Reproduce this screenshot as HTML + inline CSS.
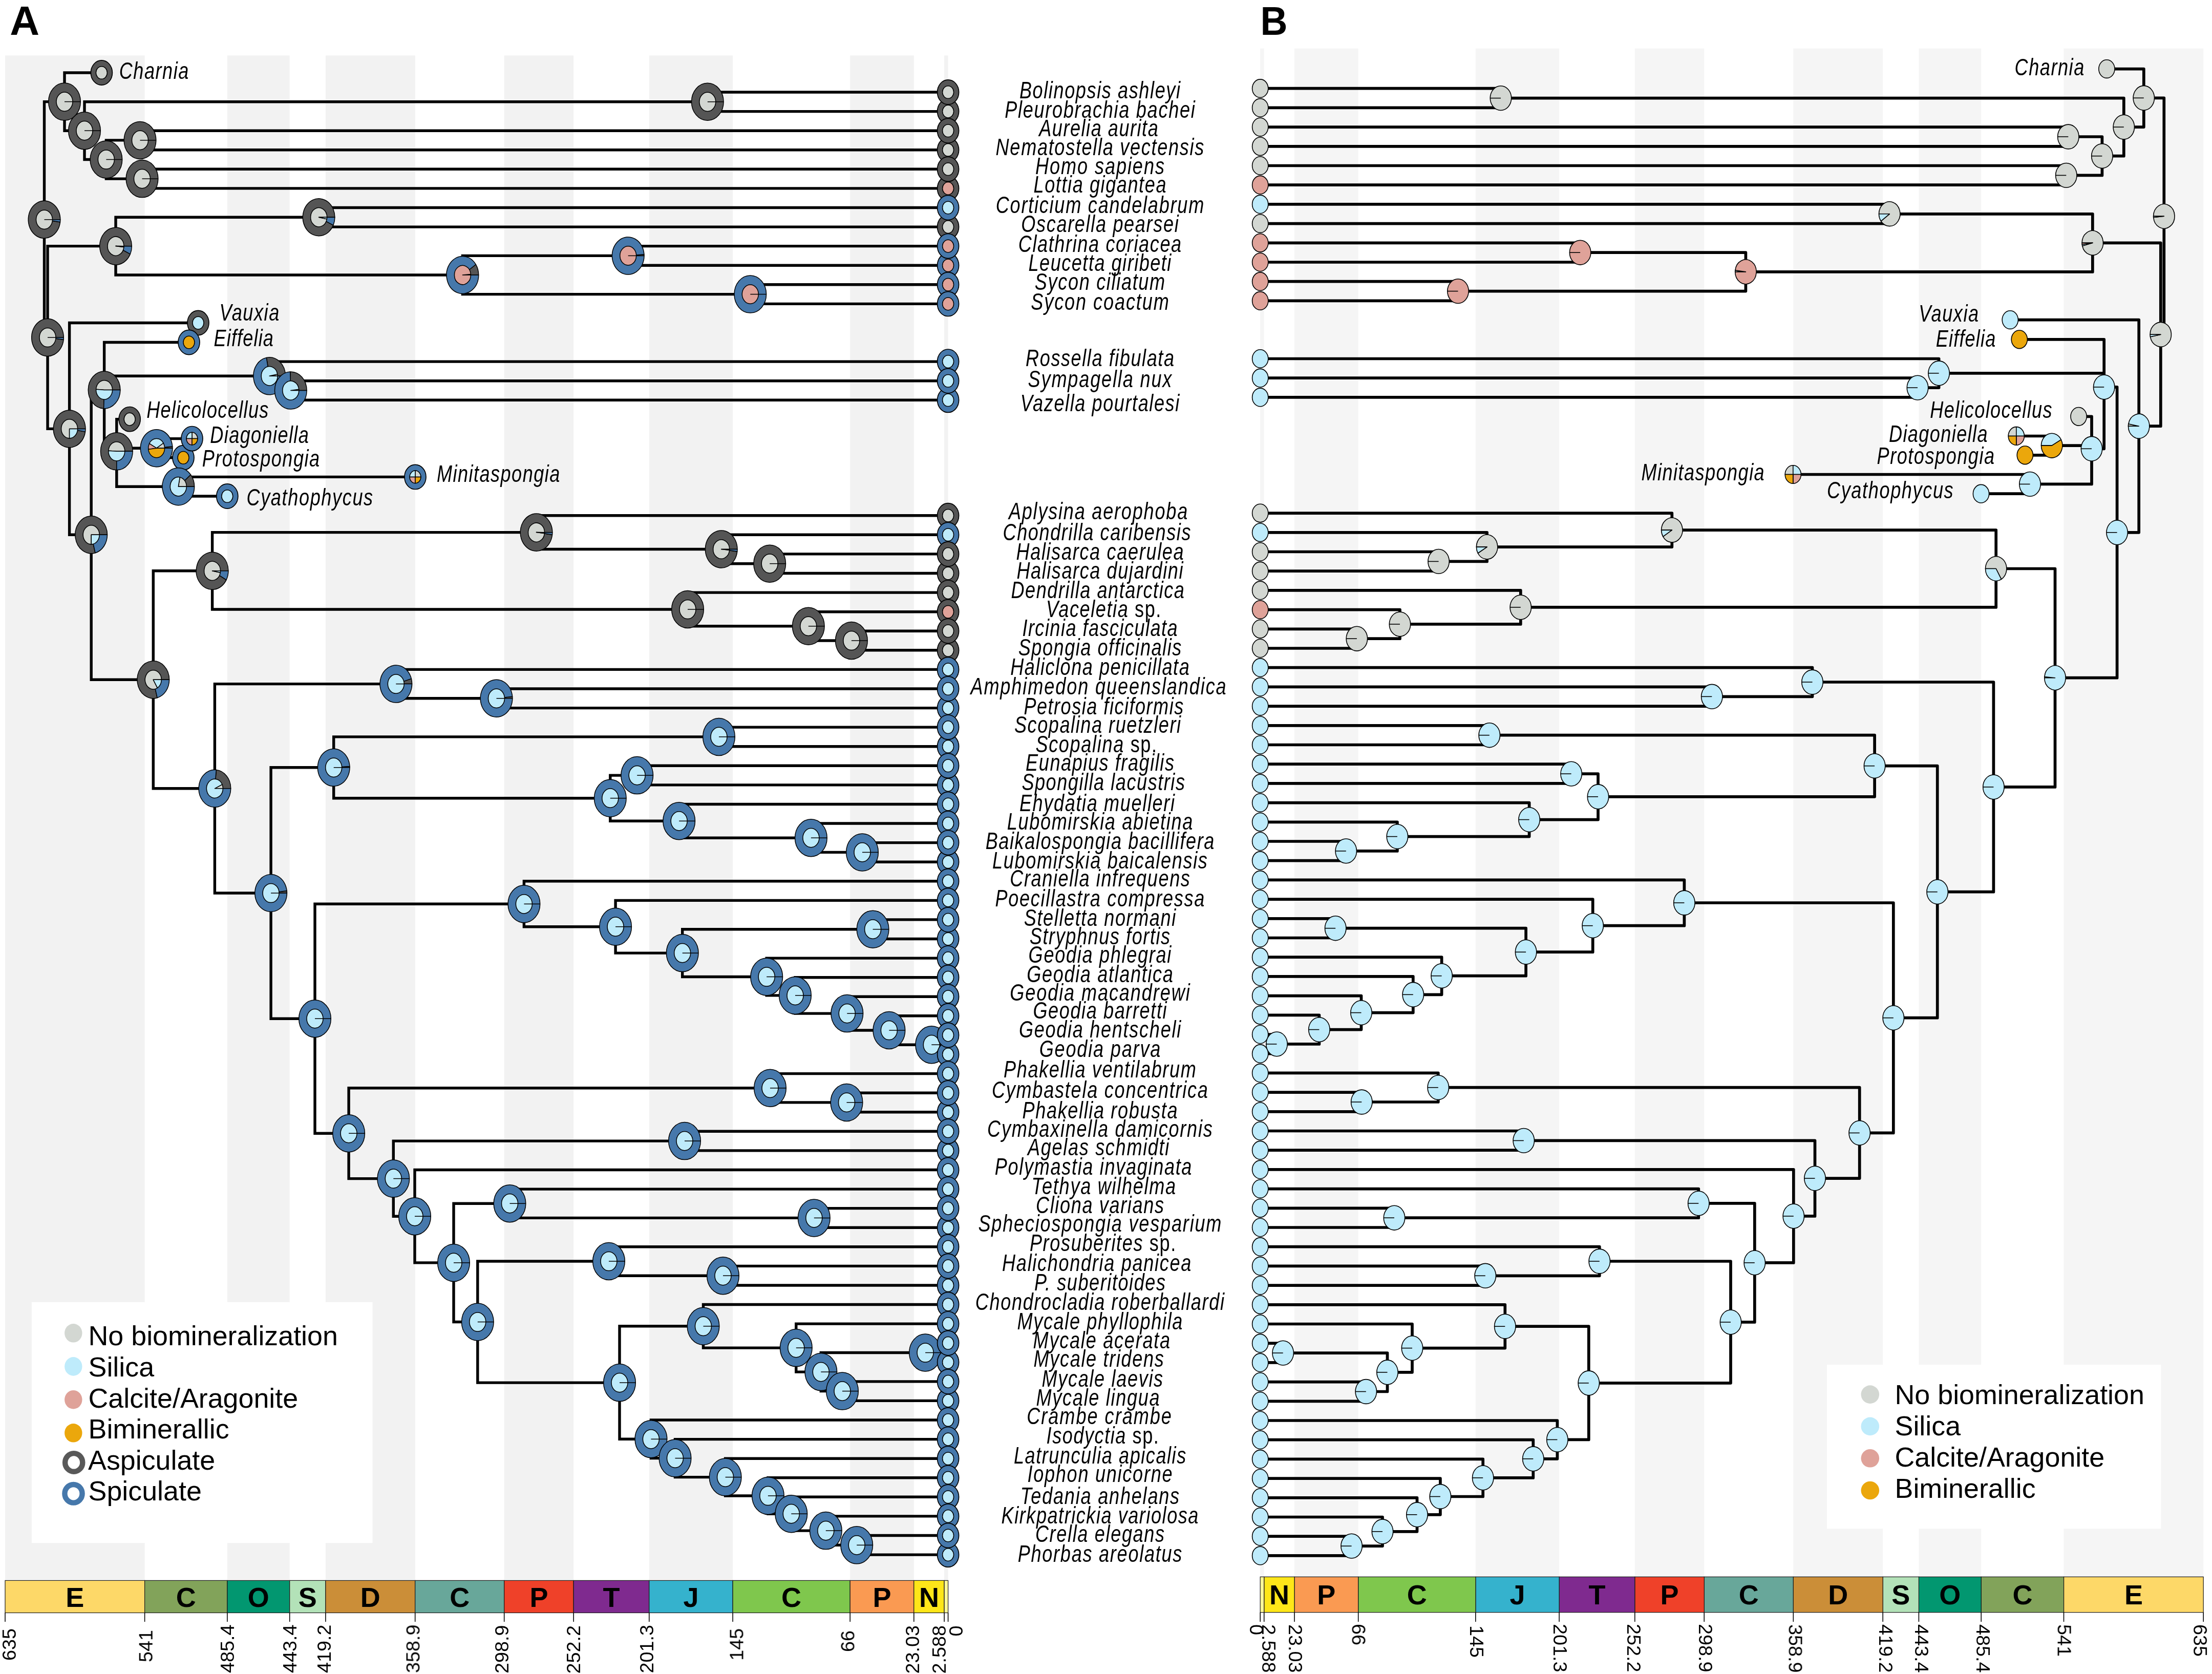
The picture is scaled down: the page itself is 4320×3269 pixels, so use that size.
<!DOCTYPE html>
<html><head><meta charset="utf-8"><title>Figure</title>
<style>html,body{margin:0;padding:0;background:#fff}svg{display:block}text{font-family:"Liberation Sans",sans-serif}</style></head>
<body><svg width="4320" height="3269" viewBox="0 0 4320 3269">
<rect x="0" y="0" width="4320" height="3269" fill="#fff"/>
<rect x="10.0" y="108.4" width="272.6" height="2976.6" fill="#f2f2f2"/>
<rect x="443.9" y="108.4" width="121.8" height="2976.6" fill="#f2f2f2"/>
<rect x="635.9" y="108.4" width="174.9" height="2976.6" fill="#f2f2f2"/>
<rect x="984.7" y="108.4" width="135.4" height="2976.6" fill="#f2f2f2"/>
<rect x="1267.8" y="108.4" width="163.3" height="2976.6" fill="#f2f2f2"/>
<rect x="1660.2" y="108.4" width="124.6" height="2976.6" fill="#f2f2f2"/>
<rect x="1844.1" y="108.4" width="7.5" height="2976.6" fill="#f2f2f2"/>
<rect x="61.8" y="2542.8" width="665.7" height="470.3" fill="#fff"/>
<rect x="4030.5" y="94.6" width="272.7" height="2984.4" fill="#f5f5f5"/>
<rect x="3747.4" y="94.6" width="121.8" height="2984.4" fill="#f5f5f5"/>
<rect x="3502.3" y="94.6" width="174.9" height="2984.4" fill="#f5f5f5"/>
<rect x="3192.8" y="94.6" width="135.5" height="2984.4" fill="#f5f5f5"/>
<rect x="2881.8" y="94.6" width="163.3" height="2984.4" fill="#f5f5f5"/>
<rect x="2528.0" y="94.6" width="124.6" height="2984.4" fill="#f5f5f5"/>
<rect x="2461.2" y="94.6" width="7.5" height="2984.4" fill="#f5f5f5"/>
<rect x="3567.9" y="2665.1" width="652.6" height="320.1" fill="#fff"/>
<path d="M86.5 198.6V659.0M86.5 198.6H126.0M126.0 142.0V255.2M126.0 142.0H198.4M126.0 255.2H165.0M165.0 198.8V311.5M165.0 198.8H1381.8M1381.8 180.0V217.6M1381.8 180.0H1851.6M1381.8 217.6H1851.6M165.0 311.5H207.4M207.4 273.9V349.1M207.4 273.9H273.5M273.5 255.2V292.7M273.5 255.2H1851.6M273.5 292.7H1851.6M207.4 349.1H277.5M277.5 330.3V367.9M277.5 330.3H1851.6M277.5 367.9H1851.6M86.5 659.0H93.0M93.0 480.6V837.4M93.0 480.6H226.0M226.0 424.3V537.0M226.0 424.3H622.6M622.6 405.5V443.1M622.6 405.5H1851.6M622.6 443.1H1851.6M226.0 537.0H903.4M903.4 499.4V574.6M903.4 499.4H1226.7M1226.7 480.6V518.2M1226.7 480.6H1851.6M1226.7 518.2H1851.6M903.4 574.6H1465.3M1465.3 555.8V593.4M1465.3 555.8H1851.6M1465.3 593.4H1851.6M93.0 837.4H135.6M135.6 630.5V1044.3M135.6 630.5H387.0M135.6 1044.3H178.2M178.2 761.4V1327.3M178.2 761.4H203.6M203.6 668.5V881.3M203.6 668.5H369.0M203.6 734.3H526.2M526.2 706.1V762.5M526.2 706.1H1851.6M526.2 762.5H567.8M567.8 743.7V781.3M567.8 743.7H1851.6M567.8 781.3H1851.6M203.6 881.3H227.8M227.8 818.6V950.2M227.8 818.6H253.2M227.8 875.2H305.6M305.6 856.6V893.8M305.6 856.6H375.0M305.6 893.8H358.0M227.8 950.2H348.3M348.3 931.4V969.0M348.3 931.4H811.0M348.3 969.0H443.8M178.2 1327.3H299.3M299.3 1114.8V1539.8M299.3 1114.8H414.6M414.6 1039.6V1190.0M414.6 1039.6H1047.5M1047.5 1006.8V1072.5M1047.5 1006.8H1851.6M1047.5 1072.5H1408.7M1408.7 1044.3V1100.7M1408.7 1044.3H1851.6M1408.7 1100.7H1503.2M1503.2 1081.9V1119.5M1503.2 1081.9H1851.6M1503.2 1119.5H1851.6M414.6 1190.0H1343.0M1343.0 1157.1V1222.8M1343.0 1157.1H1851.6M1343.0 1222.8H1578.8M1578.8 1194.7V1251.0M1578.8 1194.7H1851.6M1578.8 1251.0H1662.9M1662.9 1232.2V1269.8M1662.9 1232.2H1851.6M1662.9 1269.8H1851.6M299.3 1539.8H419.4M419.4 1335.6V1744.0M419.4 1335.6H773.3M773.3 1307.4V1363.8M773.3 1307.4H1851.6M773.3 1363.8H969.5M969.5 1345.0V1382.6M969.5 1345.0H1851.6M969.5 1382.6H1851.6M419.4 1744.0H529.1M529.1 1498.8V1989.2M529.1 1498.8H651.7M651.7 1438.9V1558.7M651.7 1438.9H1404.0M1404.0 1420.1V1457.7M1404.0 1420.1H1851.6M1404.0 1457.7H1851.6M651.7 1558.7H1191.8M1191.8 1514.1V1603.3M1191.8 1514.1H1244.2M1244.2 1495.3V1532.9M1244.2 1495.3H1851.6M1244.2 1532.9H1851.6M1191.8 1603.3H1326.2M1326.2 1570.5V1636.2M1326.2 1570.5H1851.6M1326.2 1636.2H1583.9M1583.9 1608.0V1664.4M1583.9 1608.0H1851.6M1583.9 1664.4H1684.0M1684.0 1645.6V1683.2M1684.0 1645.6H1851.6M1684.0 1683.2H1851.6M529.1 1989.2H615.0M615.0 1765.3V2213.2M615.0 1765.3H1023.4M1023.4 1720.8V1809.7M1023.4 1720.8H1851.6M1023.4 1809.7H1202.1M1202.1 1758.4V1861.1M1202.1 1758.4H1851.6M1202.1 1861.1H1332.7M1332.7 1814.7V1907.5M1332.7 1814.7H1704.6M1704.6 1795.9V1833.5M1704.6 1795.9H1851.6M1704.6 1833.5H1851.6M1332.7 1907.5H1497.2M1497.2 1871.1V1943.9M1497.2 1871.1H1851.6M1497.2 1943.9H1553.0M1553.0 1908.7V1979.1M1553.0 1908.7H1851.6M1553.0 1979.1H1654.3M1654.3 1946.3V2012.0M1654.3 1946.3H1851.6M1654.3 2012.0H1736.4M1736.4 1983.8V2040.2M1736.4 1983.8H1851.6M1736.4 2040.2H1819.3M1819.3 2021.4V2059.0M1819.3 2021.4H1851.6M1819.3 2059.0H1851.6M615.0 2213.2H681.1M681.1 2124.8V2301.6M681.1 2124.8H1504.0M1504.0 2096.6V2152.9M1504.0 2096.6H1851.6M1504.0 2152.9H1653.5M1653.5 2134.2V2171.7M1653.5 2134.2H1851.6M1653.5 2171.7H1851.6M681.1 2301.6H768.3M768.3 2228.1V2375.2M768.3 2228.1H1337.0M1337.0 2209.3V2246.9M1337.0 2209.3H1851.6M1337.0 2246.9H1851.6M768.3 2375.2H810.0M810.0 2284.5V2465.9M810.0 2284.5H1851.6M810.0 2465.9H886.0M886.0 2350.2V2581.5M886.0 2350.2H995.5M995.5 2322.1V2378.4M995.5 2322.1H1851.6M995.5 2378.4H1589.8M1589.8 2359.6V2397.2M1589.8 2359.6H1851.6M1589.8 2397.2H1851.6M886.0 2581.5H932.8M932.8 2463.0V2700.1M932.8 2463.0H1189.0M1189.0 2434.8V2491.2M1189.0 2434.8H1851.6M1189.0 2491.2H1412.0M1412.0 2472.4V2510.0M1412.0 2472.4H1851.6M1412.0 2510.0H1851.6M932.8 2700.1H1210.0M1210.0 2589.8V2810.3M1210.0 2589.8H1373.5M1373.5 2547.5V2632.1M1373.5 2547.5H1851.6M1373.5 2632.1H1554.8M1554.8 2585.1V2679.1M1554.8 2585.1H1851.6M1554.8 2679.1H1603.3M1603.3 2641.5V2716.6M1603.3 2641.5H1807.1M1807.1 2622.7V2660.3M1807.1 2622.7H1851.6M1807.1 2660.3H1851.6M1603.3 2716.6H1645.0M1645.0 2697.9V2735.4M1645.0 2697.9H1851.6M1645.0 2735.4H1851.6M1210.0 2810.3H1271.4M1271.4 2773.0V2847.6M1271.4 2773.0H1851.6M1271.4 2847.6H1318.5M1318.5 2810.6V2884.6M1318.5 2810.6H1851.6M1318.5 2884.6H1416.6M1416.6 2848.2V2921.0M1416.6 2848.2H1851.6M1416.6 2921.0H1499.9M1499.9 2885.8V2956.2M1499.9 2885.8H1851.6M1499.9 2956.2H1545.3M1545.3 2923.3V2989.1M1545.3 2923.3H1851.6M1545.3 2989.1H1612.8M1612.8 2960.9V3017.3M1612.8 2960.9H1851.6M1612.8 3017.3H1673.2M1673.2 2998.5V3036.1M1673.2 2998.5H1851.6M1673.2 3036.1H1851.6" fill="none" stroke="#000" stroke-width="5.4" stroke-linecap="square"/>
<path d="M86.5 428.8L117.80 428.81A31.3 36.5 0 1 0 117.50 433.83Z" fill="#555555" stroke="#000" stroke-width="1.5" stroke-linejoin="round"/><path d="M86.5 428.8L117.50 433.83A31.3 36.5 0 0 0 117.80 428.81Z" fill="#4678ab" stroke="#000" stroke-width="1.5" stroke-linejoin="round"/>
<ellipse cx="86.5" cy="428.8" rx="16.0" ry="18.6" fill="#d3d7d2" stroke="#000" stroke-width="1.5"/>
<path d="M86.5 428.8H102.5" stroke="#000" stroke-width="1.5"/>
<ellipse cx="126.0" cy="198.6" rx="31.3" ry="36.5" fill="#555555" stroke="#000" stroke-width="1.5"/>
<path d="M126.0 198.6H157.3" stroke="#000" stroke-width="1.5"/>
<ellipse cx="126.0" cy="198.6" rx="16.0" ry="18.6" fill="#d3d7d2" stroke="#000" stroke-width="1.5"/>
<path d="M126.0 198.6H142.0" stroke="#000" stroke-width="1.5"/>
<ellipse cx="198.4" cy="142.0" rx="21.0" ry="24.1" fill="#555555" stroke="#000" stroke-width="1.7"/><ellipse cx="198.4" cy="142.0" rx="11.0" ry="12.3" fill="#d3d7d2" stroke="#000" stroke-width="1.5"/>
<ellipse cx="165.0" cy="255.2" rx="31.3" ry="36.5" fill="#555555" stroke="#000" stroke-width="1.5"/>
<path d="M165.0 255.2H196.3" stroke="#000" stroke-width="1.5"/>
<ellipse cx="165.0" cy="255.2" rx="16.0" ry="18.6" fill="#d3d7d2" stroke="#000" stroke-width="1.5"/>
<path d="M165.0 255.2H181.0" stroke="#000" stroke-width="1.5"/>
<ellipse cx="1381.8" cy="198.8" rx="31.3" ry="36.5" fill="#555555" stroke="#000" stroke-width="1.5"/>
<path d="M1381.8 198.8H1413.1" stroke="#000" stroke-width="1.5"/>
<ellipse cx="1381.8" cy="198.8" rx="16.0" ry="18.6" fill="#d3d7d2" stroke="#000" stroke-width="1.5"/>
<path d="M1381.8 198.8H1397.8" stroke="#000" stroke-width="1.5"/>
<ellipse cx="207.4" cy="311.5" rx="31.3" ry="36.5" fill="#555555" stroke="#000" stroke-width="1.5"/>
<path d="M207.4 311.5H238.7" stroke="#000" stroke-width="1.5"/>
<ellipse cx="207.4" cy="311.5" rx="16.0" ry="18.6" fill="#d3d7d2" stroke="#000" stroke-width="1.5"/>
<path d="M207.4 311.5H223.4" stroke="#000" stroke-width="1.5"/>
<ellipse cx="273.5" cy="273.9" rx="31.3" ry="36.5" fill="#555555" stroke="#000" stroke-width="1.5"/>
<path d="M273.5 273.9H304.8" stroke="#000" stroke-width="1.5"/>
<ellipse cx="273.5" cy="273.9" rx="16.0" ry="18.6" fill="#d3d7d2" stroke="#000" stroke-width="1.5"/>
<path d="M273.5 273.9H289.5" stroke="#000" stroke-width="1.5"/>
<ellipse cx="277.5" cy="349.1" rx="31.3" ry="36.5" fill="#555555" stroke="#000" stroke-width="1.5"/>
<path d="M277.5 349.1H308.8" stroke="#000" stroke-width="1.5"/>
<ellipse cx="277.5" cy="349.1" rx="16.0" ry="18.6" fill="#d3d7d2" stroke="#000" stroke-width="1.5"/>
<path d="M277.5 349.1H293.5" stroke="#000" stroke-width="1.5"/>
<path d="M93.0 659.0L124.30 659.03A31.3 36.5 0 1 0 124.10 663.15Z" fill="#555555" stroke="#000" stroke-width="1.5" stroke-linejoin="round"/><path d="M93.0 659.0L124.10 663.15A31.3 36.5 0 0 0 124.30 659.03Z" fill="#4678ab" stroke="#000" stroke-width="1.5" stroke-linejoin="round"/>
<ellipse cx="93.0" cy="659.0" rx="16.0" ry="18.6" fill="#d3d7d2" stroke="#000" stroke-width="1.5"/>
<path d="M93.0 659.0H109.0" stroke="#000" stroke-width="1.5"/>
<path d="M226.0 480.6L257.30 480.64A31.3 36.5 0 1 0 254.32 496.18Z" fill="#555555" stroke="#000" stroke-width="1.5" stroke-linejoin="round"/><path d="M226.0 480.6L254.32 496.18A31.3 36.5 0 0 0 257.30 480.64Z" fill="#4678ab" stroke="#000" stroke-width="1.5" stroke-linejoin="round"/>
<path d="M226.0 480.6L242.00 480.64A16.0 18.6 0 1 0 241.93 482.39Z" fill="#d3d7d2" stroke="#000" stroke-width="1.5" stroke-linejoin="round"/><path d="M226.0 480.6L241.93 482.39A16.0 18.6 0 0 0 242.00 480.64Z" fill="#beebfb" stroke="#000" stroke-width="1.5" stroke-linejoin="round"/>
<path d="M622.6 424.3L653.90 424.27A31.3 36.5 0 1 0 650.92 439.81Z" fill="#555555" stroke="#000" stroke-width="1.5" stroke-linejoin="round"/><path d="M622.6 424.3L650.92 439.81A31.3 36.5 0 0 0 653.90 424.27Z" fill="#4678ab" stroke="#000" stroke-width="1.5" stroke-linejoin="round"/>
<path d="M622.6 424.3L638.60 424.27A16.0 18.6 0 1 0 638.32 427.76Z" fill="#d3d7d2" stroke="#000" stroke-width="1.5" stroke-linejoin="round"/><path d="M622.6 424.3L638.32 427.76A16.0 18.6 0 0 0 638.60 424.27Z" fill="#beebfb" stroke="#000" stroke-width="1.5" stroke-linejoin="round"/>
<path d="M903.4 537.0L934.70 537.01A31.3 36.5 0 0 0 929.29 516.49Z" fill="#555555" stroke="#000" stroke-width="1.5" stroke-linejoin="round"/><path d="M903.4 537.0L929.29 516.49A31.3 36.5 0 1 0 934.70 537.01Z" fill="#4678ab" stroke="#000" stroke-width="1.5" stroke-linejoin="round"/>
<path d="M903.4 537.0L919.40 537.01A16.0 18.6 0 0 0 919.35 535.61Z" fill="#d3d7d2" stroke="#000" stroke-width="1.5" stroke-linejoin="round"/><path d="M903.4 537.0L919.35 535.61A16.0 18.6 0 1 0 919.40 537.01Z" fill="#dfa299" stroke="#000" stroke-width="1.5" stroke-linejoin="round"/>
<path d="M1226.7 499.4L1258.00 499.43A31.3 36.5 0 0 0 1257.91 496.68Z" fill="#555555" stroke="#000" stroke-width="1.5" stroke-linejoin="round"/><path d="M1226.7 499.4L1257.91 496.68A31.3 36.5 0 1 0 1258.00 499.43Z" fill="#4678ab" stroke="#000" stroke-width="1.5" stroke-linejoin="round"/>
<ellipse cx="1226.7" cy="499.4" rx="16.0" ry="18.6" fill="#dfa299" stroke="#000" stroke-width="1.5"/>
<path d="M1226.7 499.4H1242.7" stroke="#000" stroke-width="1.5"/>
<ellipse cx="1465.3" cy="574.6" rx="31.3" ry="36.5" fill="#4678ab" stroke="#000" stroke-width="1.5"/>
<path d="M1465.3 574.6H1496.6" stroke="#000" stroke-width="1.5"/>
<ellipse cx="1465.3" cy="574.6" rx="16.0" ry="18.6" fill="#dfa299" stroke="#000" stroke-width="1.5"/>
<path d="M1465.3 574.6H1481.3" stroke="#000" stroke-width="1.5"/>
<path d="M135.6 837.4L166.90 837.42A31.3 36.5 0 1 0 166.51 843.13Z" fill="#555555" stroke="#000" stroke-width="1.5" stroke-linejoin="round"/><path d="M135.6 837.4L166.51 843.13A31.3 36.5 0 0 0 166.90 837.42Z" fill="#4678ab" stroke="#000" stroke-width="1.5" stroke-linejoin="round"/>
<path d="M135.6 837.4L151.60 837.42A16.0 18.6 0 1 0 135.60 856.02Z" fill="#d3d7d2" stroke="#000" stroke-width="1.5" stroke-linejoin="round"/><path d="M135.6 837.4L135.60 856.02A16.0 18.6 0 0 0 151.60 837.42Z" fill="#beebfb" stroke="#000" stroke-width="1.5" stroke-linejoin="round"/>
<ellipse cx="387.0" cy="630.5" rx="21.0" ry="24.1" fill="#555555" stroke="#000" stroke-width="1.7"/><ellipse cx="387.0" cy="630.5" rx="11.0" ry="12.3" fill="#beebfb" stroke="#000" stroke-width="1.5"/>
<path d="M178.2 1044.3L209.50 1044.34A31.3 36.5 0 1 0 185.98 1079.70Z" fill="#555555" stroke="#000" stroke-width="1.5" stroke-linejoin="round"/><path d="M178.2 1044.3L185.98 1079.70A31.3 36.5 0 0 0 209.50 1044.34Z" fill="#4678ab" stroke="#000" stroke-width="1.5" stroke-linejoin="round"/>
<path d="M178.2 1044.3L194.20 1044.34A16.0 18.6 0 1 0 178.20 1062.94Z" fill="#d3d7d2" stroke="#000" stroke-width="1.5" stroke-linejoin="round"/><path d="M178.2 1044.3L178.20 1062.94A16.0 18.6 0 0 0 194.20 1044.34Z" fill="#beebfb" stroke="#000" stroke-width="1.5" stroke-linejoin="round"/>
<path d="M203.6 761.4L234.90 761.38A31.3 36.5 0 1 0 202.62 797.86Z" fill="#555555" stroke="#000" stroke-width="1.5" stroke-linejoin="round"/><path d="M203.6 761.4L202.62 797.86A31.3 36.5 0 0 0 234.90 761.38Z" fill="#4678ab" stroke="#000" stroke-width="1.5" stroke-linejoin="round"/>
<path d="M203.6 761.4L219.60 761.38A16.0 18.6 0 0 0 187.63 760.21Z" fill="#d3d7d2" stroke="#000" stroke-width="1.5" stroke-linejoin="round"/><path d="M203.6 761.4L187.63 760.21A16.0 18.6 0 1 0 219.60 761.38Z" fill="#beebfb" stroke="#000" stroke-width="1.5" stroke-linejoin="round"/>
<ellipse cx="369.0" cy="668.5" rx="21.0" ry="24.1" fill="#4678ab" stroke="#000" stroke-width="1.7"/><ellipse cx="369.0" cy="668.5" rx="11.0" ry="12.3" fill="#eba70c" stroke="#000" stroke-width="1.5"/>
<path d="M526.2 734.3L557.50 734.31A31.3 36.5 0 0 0 520.33 698.45Z" fill="#555555" stroke="#000" stroke-width="1.5" stroke-linejoin="round"/><path d="M526.2 734.3L520.33 698.45A31.3 36.5 0 1 0 557.50 734.31Z" fill="#4678ab" stroke="#000" stroke-width="1.5" stroke-linejoin="round"/>
<path d="M526.2 734.3L542.20 734.31A16.0 18.6 0 0 0 541.92 730.82Z" fill="#d3d7d2" stroke="#000" stroke-width="1.5" stroke-linejoin="round"/><path d="M526.2 734.3L541.92 730.82A16.0 18.6 0 1 0 542.20 734.31Z" fill="#beebfb" stroke="#000" stroke-width="1.5" stroke-linejoin="round"/>
<path d="M567.8 762.5L599.10 762.49A31.3 36.5 0 0 0 566.82 726.01Z" fill="#555555" stroke="#000" stroke-width="1.5" stroke-linejoin="round"/><path d="M567.8 762.5L566.82 726.01A31.3 36.5 0 1 0 599.10 762.49Z" fill="#4678ab" stroke="#000" stroke-width="1.5" stroke-linejoin="round"/>
<path d="M567.8 762.5L583.80 762.49A16.0 18.6 0 0 0 583.67 760.16Z" fill="#d3d7d2" stroke="#000" stroke-width="1.5" stroke-linejoin="round"/><path d="M567.8 762.5L583.67 760.16A16.0 18.6 0 1 0 583.80 762.49Z" fill="#beebfb" stroke="#000" stroke-width="1.5" stroke-linejoin="round"/>
<path d="M227.8 881.3L259.10 881.33A31.3 36.5 0 1 0 227.80 917.83Z" fill="#555555" stroke="#000" stroke-width="1.5" stroke-linejoin="round"/><path d="M227.8 881.3L227.80 917.83A31.3 36.5 0 0 0 259.10 881.33Z" fill="#4678ab" stroke="#000" stroke-width="1.5" stroke-linejoin="round"/>
<path d="M227.8 881.3L243.80 881.33A16.0 18.6 0 0 0 211.83 880.17Z" fill="#d3d7d2" stroke="#000" stroke-width="1.5" stroke-linejoin="round"/><path d="M227.8 881.3L211.83 880.17A16.0 18.6 0 1 0 243.80 881.33Z" fill="#beebfb" stroke="#000" stroke-width="1.5" stroke-linejoin="round"/>
<ellipse cx="253.2" cy="818.6" rx="21.0" ry="24.1" fill="#555555" stroke="#000" stroke-width="1.7"/><ellipse cx="253.2" cy="818.6" rx="11.0" ry="12.3" fill="#d3d7d2" stroke="#000" stroke-width="1.5"/>
<path d="M305.6 875.2L336.90 875.20A31.3 36.5 0 0 0 336.76 871.77Z" fill="#555555" stroke="#000" stroke-width="1.5" stroke-linejoin="round"/><path d="M305.6 875.2L336.76 871.77A31.3 36.5 0 1 0 336.90 875.20Z" fill="#4678ab" stroke="#000" stroke-width="1.5" stroke-linejoin="round"/>
<path d="M305.6 875.2L321.60 875.20A16.0 18.6 0 0 0 319.11 865.23Z" fill="#d3d7d2" stroke="#000" stroke-width="1.5" stroke-linejoin="round"/><path d="M305.6 875.2L319.11 865.23A16.0 18.6 0 0 0 291.58 866.24Z" fill="#beebfb" stroke="#000" stroke-width="1.5" stroke-linejoin="round"/><path d="M305.6 875.2L291.58 866.24A16.0 18.6 0 0 0 289.73 877.53Z" fill="#dfa299" stroke="#000" stroke-width="1.5" stroke-linejoin="round"/><path d="M305.6 875.2L289.73 877.53A16.0 18.6 0 0 0 321.60 875.20Z" fill="#eba70c" stroke="#000" stroke-width="1.5" stroke-linejoin="round"/>
<ellipse cx="358.0" cy="893.8" rx="21.0" ry="24.1" fill="#4678ab" stroke="#000" stroke-width="1.7"/><ellipse cx="358.0" cy="893.8" rx="11.0" ry="12.3" fill="#eba70c" stroke="#000" stroke-width="1.5"/>
<ellipse cx="375.0" cy="856.6" rx="21.0" ry="24.1" fill="#4678ab" stroke="#000" stroke-width="1.7"/><path d="M375.0 856.6L386.00 856.60A11.0 12.3 0 0 0 375.00 844.30Z" fill="#d3d7d2" stroke="#000" stroke-width="1.5" stroke-linejoin="round"/><path d="M375.0 856.6L375.00 844.30A11.0 12.3 0 0 0 364.00 856.60Z" fill="#beebfb" stroke="#000" stroke-width="1.5" stroke-linejoin="round"/><path d="M375.0 856.6L364.00 856.60A11.0 12.3 0 0 0 375.00 868.90Z" fill="#dfa299" stroke="#000" stroke-width="1.5" stroke-linejoin="round"/><path d="M375.0 856.6L375.00 868.90A11.0 12.3 0 0 0 386.00 856.60Z" fill="#eba70c" stroke="#000" stroke-width="1.5" stroke-linejoin="round"/>
<path d="M348.3 950.2L379.60 950.20A31.3 36.5 0 0 0 372.42 926.93Z" fill="#555555" stroke="#000" stroke-width="1.5" stroke-linejoin="round"/><path d="M348.3 950.2L372.42 926.93A31.3 36.5 0 1 0 379.60 950.20Z" fill="#4678ab" stroke="#000" stroke-width="1.5" stroke-linejoin="round"/>
<path d="M348.3 950.2L364.30 950.20A16.0 18.6 0 0 0 351.30 931.93Z" fill="#d3d7d2" stroke="#000" stroke-width="1.5" stroke-linejoin="round"/><path d="M348.3 950.2L351.30 931.93A16.0 18.6 0 1 0 364.30 950.20Z" fill="#beebfb" stroke="#000" stroke-width="1.5" stroke-linejoin="round"/>
<ellipse cx="811.0" cy="931.4" rx="21.0" ry="24.1" fill="#4678ab" stroke="#000" stroke-width="1.7"/><path d="M811.0 931.4L822.00 931.40A11.0 12.3 0 0 0 811.00 919.10Z" fill="#d3d7d2" stroke="#000" stroke-width="1.5" stroke-linejoin="round"/><path d="M811.0 931.4L811.00 919.10A11.0 12.3 0 0 0 800.00 931.40Z" fill="#beebfb" stroke="#000" stroke-width="1.5" stroke-linejoin="round"/><path d="M811.0 931.4L800.00 931.40A11.0 12.3 0 0 0 811.00 943.70Z" fill="#dfa299" stroke="#000" stroke-width="1.5" stroke-linejoin="round"/><path d="M811.0 931.4L811.00 943.70A11.0 12.3 0 0 0 822.00 931.40Z" fill="#eba70c" stroke="#000" stroke-width="1.5" stroke-linejoin="round"/>
<ellipse cx="443.8" cy="969.0" rx="21.0" ry="24.1" fill="#4678ab" stroke="#000" stroke-width="1.7"/><ellipse cx="443.8" cy="969.0" rx="11.0" ry="12.3" fill="#beebfb" stroke="#000" stroke-width="1.5"/>
<path d="M299.3 1327.3L330.60 1327.30A31.3 36.5 0 1 0 307.08 1362.66Z" fill="#555555" stroke="#000" stroke-width="1.5" stroke-linejoin="round"/><path d="M299.3 1327.3L307.08 1362.66A31.3 36.5 0 0 0 330.60 1327.30Z" fill="#4678ab" stroke="#000" stroke-width="1.5" stroke-linejoin="round"/>
<path d="M299.3 1327.3L315.30 1327.30A16.0 18.6 0 1 0 307.44 1343.31Z" fill="#d3d7d2" stroke="#000" stroke-width="1.5" stroke-linejoin="round"/><path d="M299.3 1327.3L307.44 1343.31A16.0 18.6 0 0 0 315.30 1327.30Z" fill="#beebfb" stroke="#000" stroke-width="1.5" stroke-linejoin="round"/>
<path d="M414.6 1114.8L445.90 1114.80A31.3 36.5 0 1 0 442.03 1132.39Z" fill="#555555" stroke="#000" stroke-width="1.5" stroke-linejoin="round"/><path d="M414.6 1114.8L442.03 1132.39A31.3 36.5 0 0 0 445.90 1114.80Z" fill="#4678ab" stroke="#000" stroke-width="1.5" stroke-linejoin="round"/>
<path d="M414.6 1114.8L430.60 1114.80A16.0 18.6 0 1 0 430.32 1118.29Z" fill="#d3d7d2" stroke="#000" stroke-width="1.5" stroke-linejoin="round"/><path d="M414.6 1114.8L430.32 1118.29A16.0 18.6 0 0 0 430.60 1114.80Z" fill="#beebfb" stroke="#000" stroke-width="1.5" stroke-linejoin="round"/>
<path d="M1047.5 1039.6L1078.80 1039.64A31.3 36.5 0 1 0 1078.55 1044.22Z" fill="#555555" stroke="#000" stroke-width="1.5" stroke-linejoin="round"/><path d="M1047.5 1039.6L1078.55 1044.22A31.3 36.5 0 0 0 1078.80 1039.64Z" fill="#4678ab" stroke="#000" stroke-width="1.5" stroke-linejoin="round"/>
<path d="M1047.5 1039.6L1063.50 1039.64A16.0 18.6 0 1 0 1063.43 1041.39Z" fill="#d3d7d2" stroke="#000" stroke-width="1.5" stroke-linejoin="round"/><path d="M1047.5 1039.6L1063.43 1041.39A16.0 18.6 0 0 0 1063.50 1039.64Z" fill="#beebfb" stroke="#000" stroke-width="1.5" stroke-linejoin="round"/>
<path d="M1408.7 1072.5L1440.00 1072.53A31.3 36.5 0 1 0 1439.75 1077.10Z" fill="#555555" stroke="#000" stroke-width="1.5" stroke-linejoin="round"/><path d="M1408.7 1072.5L1439.75 1077.10A31.3 36.5 0 0 0 1440.00 1072.53Z" fill="#4678ab" stroke="#000" stroke-width="1.5" stroke-linejoin="round"/>
<path d="M1408.7 1072.5L1424.70 1072.53A16.0 18.6 0 1 0 1424.63 1074.28Z" fill="#d3d7d2" stroke="#000" stroke-width="1.5" stroke-linejoin="round"/><path d="M1408.7 1072.5L1424.63 1074.28A16.0 18.6 0 0 0 1424.70 1072.53Z" fill="#beebfb" stroke="#000" stroke-width="1.5" stroke-linejoin="round"/>
<ellipse cx="1503.2" cy="1100.7" rx="31.3" ry="36.5" fill="#555555" stroke="#000" stroke-width="1.5"/>
<path d="M1503.2 1100.7H1534.5" stroke="#000" stroke-width="1.5"/>
<ellipse cx="1503.2" cy="1100.7" rx="16.0" ry="18.6" fill="#d3d7d2" stroke="#000" stroke-width="1.5"/>
<path d="M1503.2 1100.7H1519.2" stroke="#000" stroke-width="1.5"/>
<ellipse cx="1343.0" cy="1190.0" rx="31.3" ry="36.5" fill="#555555" stroke="#000" stroke-width="1.5"/>
<path d="M1343.0 1190.0H1374.3" stroke="#000" stroke-width="1.5"/>
<ellipse cx="1343.0" cy="1190.0" rx="16.0" ry="18.6" fill="#d3d7d2" stroke="#000" stroke-width="1.5"/>
<path d="M1343.0 1190.0H1359.0" stroke="#000" stroke-width="1.5"/>
<ellipse cx="1578.8" cy="1222.8" rx="31.3" ry="36.5" fill="#555555" stroke="#000" stroke-width="1.5"/>
<path d="M1578.8 1222.8H1610.1" stroke="#000" stroke-width="1.5"/>
<ellipse cx="1578.8" cy="1222.8" rx="16.0" ry="18.6" fill="#d3d7d2" stroke="#000" stroke-width="1.5"/>
<path d="M1578.8 1222.8H1594.8" stroke="#000" stroke-width="1.5"/>
<ellipse cx="1662.9" cy="1251.0" rx="31.3" ry="36.5" fill="#555555" stroke="#000" stroke-width="1.5"/>
<path d="M1662.9 1251.0H1694.2" stroke="#000" stroke-width="1.5"/>
<ellipse cx="1662.9" cy="1251.0" rx="16.0" ry="18.6" fill="#d3d7d2" stroke="#000" stroke-width="1.5"/>
<path d="M1662.9 1251.0H1678.9" stroke="#000" stroke-width="1.5"/>
<path d="M419.4 1539.8L450.70 1539.81A31.3 36.5 0 0 0 422.35 1503.47Z" fill="#555555" stroke="#000" stroke-width="1.5" stroke-linejoin="round"/><path d="M419.4 1539.8L422.35 1503.47A31.3 36.5 0 1 0 450.70 1539.81Z" fill="#4678ab" stroke="#000" stroke-width="1.5" stroke-linejoin="round"/>
<path d="M419.4 1539.8L435.40 1539.81A16.0 18.6 0 0 0 433.88 1531.89Z" fill="#d3d7d2" stroke="#000" stroke-width="1.5" stroke-linejoin="round"/><path d="M419.4 1539.8L433.88 1531.89A16.0 18.6 0 1 0 435.40 1539.81Z" fill="#beebfb" stroke="#000" stroke-width="1.5" stroke-linejoin="round"/>
<path d="M773.3 1335.6L804.60 1335.59A31.3 36.5 0 0 0 803.36 1325.40Z" fill="#555555" stroke="#000" stroke-width="1.5" stroke-linejoin="round"/><path d="M773.3 1335.6L803.36 1325.40A31.3 36.5 0 1 0 804.60 1335.59Z" fill="#4678ab" stroke="#000" stroke-width="1.5" stroke-linejoin="round"/>
<ellipse cx="773.3" cy="1335.6" rx="16.0" ry="18.6" fill="#beebfb" stroke="#000" stroke-width="1.5"/>
<path d="M773.3 1335.6H789.3" stroke="#000" stroke-width="1.5"/>
<path d="M969.5 1363.8L1000.80 1363.77A31.3 36.5 0 0 0 1000.66 1360.34Z" fill="#555555" stroke="#000" stroke-width="1.5" stroke-linejoin="round"/><path d="M969.5 1363.8L1000.66 1360.34A31.3 36.5 0 1 0 1000.80 1363.77Z" fill="#4678ab" stroke="#000" stroke-width="1.5" stroke-linejoin="round"/>
<ellipse cx="969.5" cy="1363.8" rx="16.0" ry="18.6" fill="#beebfb" stroke="#000" stroke-width="1.5"/>
<path d="M969.5 1363.8H985.5" stroke="#000" stroke-width="1.5"/>
<path d="M529.1 1744.0L560.40 1744.03A31.3 36.5 0 0 0 560.15 1739.45Z" fill="#555555" stroke="#000" stroke-width="1.5" stroke-linejoin="round"/><path d="M529.1 1744.0L560.15 1739.45A31.3 36.5 0 1 0 560.40 1744.03Z" fill="#4678ab" stroke="#000" stroke-width="1.5" stroke-linejoin="round"/>
<ellipse cx="529.1" cy="1744.0" rx="16.0" ry="18.6" fill="#beebfb" stroke="#000" stroke-width="1.5"/>
<path d="M529.1 1744.0H545.1" stroke="#000" stroke-width="1.5"/>
<path d="M651.7 1498.8L683.00 1498.82A31.3 36.5 0 0 0 682.94 1496.53Z" fill="#555555" stroke="#000" stroke-width="1.5" stroke-linejoin="round"/><path d="M651.7 1498.8L682.94 1496.53A31.3 36.5 0 1 0 683.00 1498.82Z" fill="#4678ab" stroke="#000" stroke-width="1.5" stroke-linejoin="round"/>
<ellipse cx="651.7" cy="1498.8" rx="16.0" ry="18.6" fill="#beebfb" stroke="#000" stroke-width="1.5"/>
<path d="M651.7 1498.8H667.7" stroke="#000" stroke-width="1.5"/>
<ellipse cx="1404.0" cy="1438.9" rx="31.3" ry="36.5" fill="#4678ab" stroke="#000" stroke-width="1.5"/>
<path d="M1404.0 1438.9H1435.3" stroke="#000" stroke-width="1.5"/>
<ellipse cx="1404.0" cy="1438.9" rx="16.0" ry="18.6" fill="#beebfb" stroke="#000" stroke-width="1.5"/>
<path d="M1404.0 1438.9H1420.0" stroke="#000" stroke-width="1.5"/>
<ellipse cx="1191.8" cy="1558.7" rx="31.3" ry="36.5" fill="#4678ab" stroke="#000" stroke-width="1.5"/>
<path d="M1191.8 1558.7H1223.1" stroke="#000" stroke-width="1.5"/>
<ellipse cx="1191.8" cy="1558.7" rx="16.0" ry="18.6" fill="#beebfb" stroke="#000" stroke-width="1.5"/>
<path d="M1191.8 1558.7H1207.8" stroke="#000" stroke-width="1.5"/>
<ellipse cx="1244.2" cy="1514.1" rx="31.3" ry="36.5" fill="#4678ab" stroke="#000" stroke-width="1.5"/>
<path d="M1244.2 1514.1H1275.5" stroke="#000" stroke-width="1.5"/>
<ellipse cx="1244.2" cy="1514.1" rx="16.0" ry="18.6" fill="#beebfb" stroke="#000" stroke-width="1.5"/>
<path d="M1244.2 1514.1H1260.2" stroke="#000" stroke-width="1.5"/>
<ellipse cx="1326.2" cy="1603.3" rx="31.3" ry="36.5" fill="#4678ab" stroke="#000" stroke-width="1.5"/>
<path d="M1326.2 1603.3H1357.5" stroke="#000" stroke-width="1.5"/>
<ellipse cx="1326.2" cy="1603.3" rx="16.0" ry="18.6" fill="#beebfb" stroke="#000" stroke-width="1.5"/>
<path d="M1326.2 1603.3H1342.2" stroke="#000" stroke-width="1.5"/>
<ellipse cx="1583.9" cy="1636.2" rx="31.3" ry="36.5" fill="#4678ab" stroke="#000" stroke-width="1.5"/>
<path d="M1583.9 1636.2H1615.2" stroke="#000" stroke-width="1.5"/>
<ellipse cx="1583.9" cy="1636.2" rx="16.0" ry="18.6" fill="#beebfb" stroke="#000" stroke-width="1.5"/>
<path d="M1583.9 1636.2H1599.9" stroke="#000" stroke-width="1.5"/>
<ellipse cx="1684.0" cy="1664.4" rx="31.3" ry="36.5" fill="#4678ab" stroke="#000" stroke-width="1.5"/>
<path d="M1684.0 1664.4H1715.3" stroke="#000" stroke-width="1.5"/>
<ellipse cx="1684.0" cy="1664.4" rx="16.0" ry="18.6" fill="#beebfb" stroke="#000" stroke-width="1.5"/>
<path d="M1684.0 1664.4H1700.0" stroke="#000" stroke-width="1.5"/>
<ellipse cx="615.0" cy="1989.2" rx="31.3" ry="36.5" fill="#4678ab" stroke="#000" stroke-width="1.5"/>
<path d="M615.0 1989.2H646.3" stroke="#000" stroke-width="1.5"/>
<ellipse cx="615.0" cy="1989.2" rx="16.0" ry="18.6" fill="#beebfb" stroke="#000" stroke-width="1.5"/>
<path d="M615.0 1989.2H631.0" stroke="#000" stroke-width="1.5"/>
<ellipse cx="1023.4" cy="1765.3" rx="31.3" ry="36.5" fill="#4678ab" stroke="#000" stroke-width="1.5"/>
<path d="M1023.4 1765.3H1054.7" stroke="#000" stroke-width="1.5"/>
<ellipse cx="1023.4" cy="1765.3" rx="16.0" ry="18.6" fill="#beebfb" stroke="#000" stroke-width="1.5"/>
<path d="M1023.4 1765.3H1039.4" stroke="#000" stroke-width="1.5"/>
<ellipse cx="1202.1" cy="1809.7" rx="31.3" ry="36.5" fill="#4678ab" stroke="#000" stroke-width="1.5"/>
<path d="M1202.1 1809.7H1233.4" stroke="#000" stroke-width="1.5"/>
<ellipse cx="1202.1" cy="1809.7" rx="16.0" ry="18.6" fill="#beebfb" stroke="#000" stroke-width="1.5"/>
<path d="M1202.1 1809.7H1218.1" stroke="#000" stroke-width="1.5"/>
<ellipse cx="1332.7" cy="1861.1" rx="31.3" ry="36.5" fill="#4678ab" stroke="#000" stroke-width="1.5"/>
<path d="M1332.7 1861.1H1364.0" stroke="#000" stroke-width="1.5"/>
<ellipse cx="1332.7" cy="1861.1" rx="16.0" ry="18.6" fill="#beebfb" stroke="#000" stroke-width="1.5"/>
<path d="M1332.7 1861.1H1348.7" stroke="#000" stroke-width="1.5"/>
<ellipse cx="1704.6" cy="1814.7" rx="31.3" ry="36.5" fill="#4678ab" stroke="#000" stroke-width="1.5"/>
<path d="M1704.6 1814.7H1735.9" stroke="#000" stroke-width="1.5"/>
<ellipse cx="1704.6" cy="1814.7" rx="16.0" ry="18.6" fill="#beebfb" stroke="#000" stroke-width="1.5"/>
<path d="M1704.6 1814.7H1720.6" stroke="#000" stroke-width="1.5"/>
<ellipse cx="1497.2" cy="1907.5" rx="31.3" ry="36.5" fill="#4678ab" stroke="#000" stroke-width="1.5"/>
<path d="M1497.2 1907.5H1528.5" stroke="#000" stroke-width="1.5"/>
<ellipse cx="1497.2" cy="1907.5" rx="16.0" ry="18.6" fill="#beebfb" stroke="#000" stroke-width="1.5"/>
<path d="M1497.2 1907.5H1513.2" stroke="#000" stroke-width="1.5"/>
<ellipse cx="1553.0" cy="1943.9" rx="31.3" ry="36.5" fill="#4678ab" stroke="#000" stroke-width="1.5"/>
<path d="M1553.0 1943.9H1584.3" stroke="#000" stroke-width="1.5"/>
<ellipse cx="1553.0" cy="1943.9" rx="16.0" ry="18.6" fill="#beebfb" stroke="#000" stroke-width="1.5"/>
<path d="M1553.0 1943.9H1569.0" stroke="#000" stroke-width="1.5"/>
<ellipse cx="1654.3" cy="1979.1" rx="31.3" ry="36.5" fill="#4678ab" stroke="#000" stroke-width="1.5"/>
<path d="M1654.3 1979.1H1685.6" stroke="#000" stroke-width="1.5"/>
<ellipse cx="1654.3" cy="1979.1" rx="16.0" ry="18.6" fill="#beebfb" stroke="#000" stroke-width="1.5"/>
<path d="M1654.3 1979.1H1670.3" stroke="#000" stroke-width="1.5"/>
<ellipse cx="1736.4" cy="2012.0" rx="31.3" ry="36.5" fill="#4678ab" stroke="#000" stroke-width="1.5"/>
<path d="M1736.4 2012.0H1767.7" stroke="#000" stroke-width="1.5"/>
<ellipse cx="1736.4" cy="2012.0" rx="16.0" ry="18.6" fill="#beebfb" stroke="#000" stroke-width="1.5"/>
<path d="M1736.4 2012.0H1752.4" stroke="#000" stroke-width="1.5"/>
<ellipse cx="1819.3" cy="2040.2" rx="31.3" ry="36.5" fill="#4678ab" stroke="#000" stroke-width="1.5"/>
<path d="M1819.3 2040.2H1850.6" stroke="#000" stroke-width="1.5"/>
<ellipse cx="1819.3" cy="2040.2" rx="16.0" ry="18.6" fill="#beebfb" stroke="#000" stroke-width="1.5"/>
<path d="M1819.3 2040.2H1835.3" stroke="#000" stroke-width="1.5"/>
<ellipse cx="681.1" cy="2213.2" rx="31.3" ry="36.5" fill="#4678ab" stroke="#000" stroke-width="1.5"/>
<path d="M681.1 2213.2H712.4" stroke="#000" stroke-width="1.5"/>
<ellipse cx="681.1" cy="2213.2" rx="16.0" ry="18.6" fill="#beebfb" stroke="#000" stroke-width="1.5"/>
<path d="M681.1 2213.2H697.1" stroke="#000" stroke-width="1.5"/>
<ellipse cx="1504.0" cy="2124.8" rx="31.3" ry="36.5" fill="#4678ab" stroke="#000" stroke-width="1.5"/>
<path d="M1504.0 2124.8H1535.3" stroke="#000" stroke-width="1.5"/>
<ellipse cx="1504.0" cy="2124.8" rx="16.0" ry="18.6" fill="#beebfb" stroke="#000" stroke-width="1.5"/>
<path d="M1504.0 2124.8H1520.0" stroke="#000" stroke-width="1.5"/>
<ellipse cx="1653.5" cy="2152.9" rx="31.3" ry="36.5" fill="#4678ab" stroke="#000" stroke-width="1.5"/>
<path d="M1653.5 2152.9H1684.8" stroke="#000" stroke-width="1.5"/>
<ellipse cx="1653.5" cy="2152.9" rx="16.0" ry="18.6" fill="#beebfb" stroke="#000" stroke-width="1.5"/>
<path d="M1653.5 2152.9H1669.5" stroke="#000" stroke-width="1.5"/>
<ellipse cx="768.3" cy="2301.6" rx="31.3" ry="36.5" fill="#4678ab" stroke="#000" stroke-width="1.5"/>
<path d="M768.3 2301.6H799.6" stroke="#000" stroke-width="1.5"/>
<ellipse cx="768.3" cy="2301.6" rx="16.0" ry="18.6" fill="#beebfb" stroke="#000" stroke-width="1.5"/>
<path d="M768.3 2301.6H784.3" stroke="#000" stroke-width="1.5"/>
<ellipse cx="1337.0" cy="2228.1" rx="31.3" ry="36.5" fill="#4678ab" stroke="#000" stroke-width="1.5"/>
<path d="M1337.0 2228.1H1368.3" stroke="#000" stroke-width="1.5"/>
<ellipse cx="1337.0" cy="2228.1" rx="16.0" ry="18.6" fill="#beebfb" stroke="#000" stroke-width="1.5"/>
<path d="M1337.0 2228.1H1353.0" stroke="#000" stroke-width="1.5"/>
<ellipse cx="810.0" cy="2375.2" rx="31.3" ry="36.5" fill="#4678ab" stroke="#000" stroke-width="1.5"/>
<path d="M810.0 2375.2H841.3" stroke="#000" stroke-width="1.5"/>
<ellipse cx="810.0" cy="2375.2" rx="16.0" ry="18.6" fill="#beebfb" stroke="#000" stroke-width="1.5"/>
<path d="M810.0 2375.2H826.0" stroke="#000" stroke-width="1.5"/>
<ellipse cx="886.0" cy="2465.9" rx="31.3" ry="36.5" fill="#4678ab" stroke="#000" stroke-width="1.5"/>
<path d="M886.0 2465.9H917.3" stroke="#000" stroke-width="1.5"/>
<ellipse cx="886.0" cy="2465.9" rx="16.0" ry="18.6" fill="#beebfb" stroke="#000" stroke-width="1.5"/>
<path d="M886.0 2465.9H902.0" stroke="#000" stroke-width="1.5"/>
<ellipse cx="995.5" cy="2350.2" rx="31.3" ry="36.5" fill="#4678ab" stroke="#000" stroke-width="1.5"/>
<path d="M995.5 2350.2H1026.8" stroke="#000" stroke-width="1.5"/>
<ellipse cx="995.5" cy="2350.2" rx="16.0" ry="18.6" fill="#beebfb" stroke="#000" stroke-width="1.5"/>
<path d="M995.5 2350.2H1011.5" stroke="#000" stroke-width="1.5"/>
<ellipse cx="1589.8" cy="2378.4" rx="31.3" ry="36.5" fill="#4678ab" stroke="#000" stroke-width="1.5"/>
<path d="M1589.8 2378.4H1621.1" stroke="#000" stroke-width="1.5"/>
<ellipse cx="1589.8" cy="2378.4" rx="16.0" ry="18.6" fill="#beebfb" stroke="#000" stroke-width="1.5"/>
<path d="M1589.8 2378.4H1605.8" stroke="#000" stroke-width="1.5"/>
<ellipse cx="932.8" cy="2581.5" rx="31.3" ry="36.5" fill="#4678ab" stroke="#000" stroke-width="1.5"/>
<path d="M932.8 2581.5H964.1" stroke="#000" stroke-width="1.5"/>
<ellipse cx="932.8" cy="2581.5" rx="16.0" ry="18.6" fill="#beebfb" stroke="#000" stroke-width="1.5"/>
<path d="M932.8 2581.5H948.8" stroke="#000" stroke-width="1.5"/>
<ellipse cx="1189.0" cy="2463.0" rx="31.3" ry="36.5" fill="#4678ab" stroke="#000" stroke-width="1.5"/>
<path d="M1189.0 2463.0H1220.3" stroke="#000" stroke-width="1.5"/>
<ellipse cx="1189.0" cy="2463.0" rx="16.0" ry="18.6" fill="#beebfb" stroke="#000" stroke-width="1.5"/>
<path d="M1189.0 2463.0H1205.0" stroke="#000" stroke-width="1.5"/>
<ellipse cx="1412.0" cy="2491.2" rx="31.3" ry="36.5" fill="#4678ab" stroke="#000" stroke-width="1.5"/>
<path d="M1412.0 2491.2H1443.3" stroke="#000" stroke-width="1.5"/>
<ellipse cx="1412.0" cy="2491.2" rx="16.0" ry="18.6" fill="#beebfb" stroke="#000" stroke-width="1.5"/>
<path d="M1412.0 2491.2H1428.0" stroke="#000" stroke-width="1.5"/>
<ellipse cx="1210.0" cy="2700.1" rx="31.3" ry="36.5" fill="#4678ab" stroke="#000" stroke-width="1.5"/>
<path d="M1210.0 2700.1H1241.3" stroke="#000" stroke-width="1.5"/>
<ellipse cx="1210.0" cy="2700.1" rx="16.0" ry="18.6" fill="#beebfb" stroke="#000" stroke-width="1.5"/>
<path d="M1210.0 2700.1H1226.0" stroke="#000" stroke-width="1.5"/>
<ellipse cx="1373.5" cy="2589.8" rx="31.3" ry="36.5" fill="#4678ab" stroke="#000" stroke-width="1.5"/>
<path d="M1373.5 2589.8H1404.8" stroke="#000" stroke-width="1.5"/>
<ellipse cx="1373.5" cy="2589.8" rx="16.0" ry="18.6" fill="#beebfb" stroke="#000" stroke-width="1.5"/>
<path d="M1373.5 2589.8H1389.5" stroke="#000" stroke-width="1.5"/>
<ellipse cx="1554.8" cy="2632.1" rx="31.3" ry="36.5" fill="#4678ab" stroke="#000" stroke-width="1.5"/>
<path d="M1554.8 2632.1H1586.1" stroke="#000" stroke-width="1.5"/>
<ellipse cx="1554.8" cy="2632.1" rx="16.0" ry="18.6" fill="#beebfb" stroke="#000" stroke-width="1.5"/>
<path d="M1554.8 2632.1H1570.8" stroke="#000" stroke-width="1.5"/>
<ellipse cx="1603.3" cy="2679.1" rx="31.3" ry="36.5" fill="#4678ab" stroke="#000" stroke-width="1.5"/>
<path d="M1603.3 2679.1H1634.6" stroke="#000" stroke-width="1.5"/>
<ellipse cx="1603.3" cy="2679.1" rx="16.0" ry="18.6" fill="#beebfb" stroke="#000" stroke-width="1.5"/>
<path d="M1603.3 2679.1H1619.3" stroke="#000" stroke-width="1.5"/>
<ellipse cx="1807.1" cy="2641.5" rx="31.3" ry="36.5" fill="#4678ab" stroke="#000" stroke-width="1.5"/>
<path d="M1807.1 2641.5H1838.4" stroke="#000" stroke-width="1.5"/>
<ellipse cx="1807.1" cy="2641.5" rx="16.0" ry="18.6" fill="#beebfb" stroke="#000" stroke-width="1.5"/>
<path d="M1807.1 2641.5H1823.1" stroke="#000" stroke-width="1.5"/>
<ellipse cx="1645.0" cy="2716.6" rx="31.3" ry="36.5" fill="#4678ab" stroke="#000" stroke-width="1.5"/>
<path d="M1645.0 2716.6H1676.3" stroke="#000" stroke-width="1.5"/>
<ellipse cx="1645.0" cy="2716.6" rx="16.0" ry="18.6" fill="#beebfb" stroke="#000" stroke-width="1.5"/>
<path d="M1645.0 2716.6H1661.0" stroke="#000" stroke-width="1.5"/>
<ellipse cx="1271.4" cy="2810.3" rx="31.3" ry="36.5" fill="#4678ab" stroke="#000" stroke-width="1.5"/>
<path d="M1271.4 2810.3H1302.7" stroke="#000" stroke-width="1.5"/>
<ellipse cx="1271.4" cy="2810.3" rx="16.0" ry="18.6" fill="#beebfb" stroke="#000" stroke-width="1.5"/>
<path d="M1271.4 2810.3H1287.4" stroke="#000" stroke-width="1.5"/>
<ellipse cx="1318.5" cy="2847.6" rx="31.3" ry="36.5" fill="#4678ab" stroke="#000" stroke-width="1.5"/>
<path d="M1318.5 2847.6H1349.8" stroke="#000" stroke-width="1.5"/>
<ellipse cx="1318.5" cy="2847.6" rx="16.0" ry="18.6" fill="#beebfb" stroke="#000" stroke-width="1.5"/>
<path d="M1318.5 2847.6H1334.5" stroke="#000" stroke-width="1.5"/>
<ellipse cx="1416.6" cy="2884.6" rx="31.3" ry="36.5" fill="#4678ab" stroke="#000" stroke-width="1.5"/>
<path d="M1416.6 2884.6H1447.9" stroke="#000" stroke-width="1.5"/>
<ellipse cx="1416.6" cy="2884.6" rx="16.0" ry="18.6" fill="#beebfb" stroke="#000" stroke-width="1.5"/>
<path d="M1416.6 2884.6H1432.6" stroke="#000" stroke-width="1.5"/>
<ellipse cx="1499.9" cy="2921.0" rx="31.3" ry="36.5" fill="#4678ab" stroke="#000" stroke-width="1.5"/>
<path d="M1499.9 2921.0H1531.2" stroke="#000" stroke-width="1.5"/>
<ellipse cx="1499.9" cy="2921.0" rx="16.0" ry="18.6" fill="#beebfb" stroke="#000" stroke-width="1.5"/>
<path d="M1499.9 2921.0H1515.9" stroke="#000" stroke-width="1.5"/>
<ellipse cx="1545.3" cy="2956.2" rx="31.3" ry="36.5" fill="#4678ab" stroke="#000" stroke-width="1.5"/>
<path d="M1545.3 2956.2H1576.6" stroke="#000" stroke-width="1.5"/>
<ellipse cx="1545.3" cy="2956.2" rx="16.0" ry="18.6" fill="#beebfb" stroke="#000" stroke-width="1.5"/>
<path d="M1545.3 2956.2H1561.3" stroke="#000" stroke-width="1.5"/>
<ellipse cx="1612.8" cy="2989.1" rx="31.3" ry="36.5" fill="#4678ab" stroke="#000" stroke-width="1.5"/>
<path d="M1612.8 2989.1H1644.1" stroke="#000" stroke-width="1.5"/>
<ellipse cx="1612.8" cy="2989.1" rx="16.0" ry="18.6" fill="#beebfb" stroke="#000" stroke-width="1.5"/>
<path d="M1612.8 2989.1H1628.8" stroke="#000" stroke-width="1.5"/>
<ellipse cx="1673.2" cy="3017.3" rx="31.3" ry="36.5" fill="#4678ab" stroke="#000" stroke-width="1.5"/>
<path d="M1673.2 3017.3H1704.5" stroke="#000" stroke-width="1.5"/>
<ellipse cx="1673.2" cy="3017.3" rx="16.0" ry="18.6" fill="#beebfb" stroke="#000" stroke-width="1.5"/>
<path d="M1673.2 3017.3H1689.2" stroke="#000" stroke-width="1.5"/>
<ellipse cx="1851.6" cy="217.6" rx="21.0" ry="24.1" fill="#555555" stroke="#000" stroke-width="1.7"/><ellipse cx="1851.6" cy="217.6" rx="11.0" ry="12.3" fill="#d3d7d2" stroke="#000" stroke-width="1.5"/>
<ellipse cx="1851.6" cy="180.0" rx="21.0" ry="24.1" fill="#555555" stroke="#000" stroke-width="1.7"/><ellipse cx="1851.6" cy="180.0" rx="11.0" ry="12.3" fill="#d3d7d2" stroke="#000" stroke-width="1.5"/>
<ellipse cx="1851.6" cy="292.7" rx="21.0" ry="24.1" fill="#555555" stroke="#000" stroke-width="1.7"/><ellipse cx="1851.6" cy="292.7" rx="11.0" ry="12.3" fill="#d3d7d2" stroke="#000" stroke-width="1.5"/>
<ellipse cx="1851.6" cy="255.2" rx="21.0" ry="24.1" fill="#555555" stroke="#000" stroke-width="1.7"/><ellipse cx="1851.6" cy="255.2" rx="11.0" ry="12.3" fill="#d3d7d2" stroke="#000" stroke-width="1.5"/>
<ellipse cx="1851.6" cy="367.9" rx="21.0" ry="24.1" fill="#555555" stroke="#000" stroke-width="1.7"/><ellipse cx="1851.6" cy="367.9" rx="11.0" ry="12.3" fill="#dfa299" stroke="#000" stroke-width="1.5"/>
<ellipse cx="1851.6" cy="330.3" rx="21.0" ry="24.1" fill="#555555" stroke="#000" stroke-width="1.7"/><ellipse cx="1851.6" cy="330.3" rx="11.0" ry="12.3" fill="#d3d7d2" stroke="#000" stroke-width="1.5"/>
<ellipse cx="1851.6" cy="443.1" rx="21.0" ry="24.1" fill="#555555" stroke="#000" stroke-width="1.7"/><ellipse cx="1851.6" cy="443.1" rx="11.0" ry="12.3" fill="#d3d7d2" stroke="#000" stroke-width="1.5"/>
<ellipse cx="1851.6" cy="405.5" rx="21.0" ry="24.1" fill="#4678ab" stroke="#000" stroke-width="1.7"/><ellipse cx="1851.6" cy="405.5" rx="11.0" ry="12.3" fill="#beebfb" stroke="#000" stroke-width="1.5"/>
<ellipse cx="1851.6" cy="518.2" rx="21.0" ry="24.1" fill="#4678ab" stroke="#000" stroke-width="1.7"/><ellipse cx="1851.6" cy="518.2" rx="11.0" ry="12.3" fill="#dfa299" stroke="#000" stroke-width="1.5"/>
<ellipse cx="1851.6" cy="480.6" rx="21.0" ry="24.1" fill="#4678ab" stroke="#000" stroke-width="1.7"/><ellipse cx="1851.6" cy="480.6" rx="11.0" ry="12.3" fill="#dfa299" stroke="#000" stroke-width="1.5"/>
<ellipse cx="1851.6" cy="555.8" rx="21.0" ry="24.1" fill="#4678ab" stroke="#000" stroke-width="1.7"/><ellipse cx="1851.6" cy="555.8" rx="11.0" ry="12.3" fill="#dfa299" stroke="#000" stroke-width="1.5"/>
<ellipse cx="1851.6" cy="593.4" rx="21.0" ry="24.1" fill="#4678ab" stroke="#000" stroke-width="1.7"/><ellipse cx="1851.6" cy="593.4" rx="11.0" ry="12.3" fill="#dfa299" stroke="#000" stroke-width="1.5"/>
<ellipse cx="1851.6" cy="706.1" rx="21.0" ry="24.1" fill="#4678ab" stroke="#000" stroke-width="1.7"/><ellipse cx="1851.6" cy="706.1" rx="11.0" ry="12.3" fill="#beebfb" stroke="#000" stroke-width="1.5"/>
<ellipse cx="1851.6" cy="781.3" rx="21.0" ry="24.1" fill="#4678ab" stroke="#000" stroke-width="1.7"/><ellipse cx="1851.6" cy="781.3" rx="11.0" ry="12.3" fill="#beebfb" stroke="#000" stroke-width="1.5"/>
<ellipse cx="1851.6" cy="743.7" rx="21.0" ry="24.1" fill="#4678ab" stroke="#000" stroke-width="1.7"/><ellipse cx="1851.6" cy="743.7" rx="11.0" ry="12.3" fill="#beebfb" stroke="#000" stroke-width="1.5"/>
<ellipse cx="1851.6" cy="1006.8" rx="21.0" ry="24.1" fill="#555555" stroke="#000" stroke-width="1.7"/><ellipse cx="1851.6" cy="1006.8" rx="11.0" ry="12.3" fill="#d3d7d2" stroke="#000" stroke-width="1.5"/>
<ellipse cx="1851.6" cy="1044.3" rx="21.0" ry="24.1" fill="#4678ab" stroke="#000" stroke-width="1.7"/><ellipse cx="1851.6" cy="1044.3" rx="11.0" ry="12.3" fill="#beebfb" stroke="#000" stroke-width="1.5"/>
<ellipse cx="1851.6" cy="1119.5" rx="21.0" ry="24.1" fill="#555555" stroke="#000" stroke-width="1.7"/><ellipse cx="1851.6" cy="1119.5" rx="11.0" ry="12.3" fill="#d3d7d2" stroke="#000" stroke-width="1.5"/>
<ellipse cx="1851.6" cy="1081.9" rx="21.0" ry="24.1" fill="#555555" stroke="#000" stroke-width="1.7"/><ellipse cx="1851.6" cy="1081.9" rx="11.0" ry="12.3" fill="#d3d7d2" stroke="#000" stroke-width="1.5"/>
<ellipse cx="1851.6" cy="1157.1" rx="21.0" ry="24.1" fill="#555555" stroke="#000" stroke-width="1.7"/><ellipse cx="1851.6" cy="1157.1" rx="11.0" ry="12.3" fill="#d3d7d2" stroke="#000" stroke-width="1.5"/>
<ellipse cx="1851.6" cy="1194.7" rx="21.0" ry="24.1" fill="#555555" stroke="#000" stroke-width="1.7"/><ellipse cx="1851.6" cy="1194.7" rx="11.0" ry="12.3" fill="#dfa299" stroke="#000" stroke-width="1.5"/>
<ellipse cx="1851.6" cy="1269.8" rx="21.0" ry="24.1" fill="#555555" stroke="#000" stroke-width="1.7"/><ellipse cx="1851.6" cy="1269.8" rx="11.0" ry="12.3" fill="#d3d7d2" stroke="#000" stroke-width="1.5"/>
<ellipse cx="1851.6" cy="1232.2" rx="21.0" ry="24.1" fill="#555555" stroke="#000" stroke-width="1.7"/><ellipse cx="1851.6" cy="1232.2" rx="11.0" ry="12.3" fill="#d3d7d2" stroke="#000" stroke-width="1.5"/>
<ellipse cx="1851.6" cy="1307.4" rx="21.0" ry="24.1" fill="#4678ab" stroke="#000" stroke-width="1.7"/><ellipse cx="1851.6" cy="1307.4" rx="11.0" ry="12.3" fill="#beebfb" stroke="#000" stroke-width="1.5"/>
<ellipse cx="1851.6" cy="1382.6" rx="21.0" ry="24.1" fill="#4678ab" stroke="#000" stroke-width="1.7"/><ellipse cx="1851.6" cy="1382.6" rx="11.0" ry="12.3" fill="#beebfb" stroke="#000" stroke-width="1.5"/>
<ellipse cx="1851.6" cy="1345.0" rx="21.0" ry="24.1" fill="#4678ab" stroke="#000" stroke-width="1.7"/><ellipse cx="1851.6" cy="1345.0" rx="11.0" ry="12.3" fill="#beebfb" stroke="#000" stroke-width="1.5"/>
<ellipse cx="1851.6" cy="1457.7" rx="21.0" ry="24.1" fill="#4678ab" stroke="#000" stroke-width="1.7"/><ellipse cx="1851.6" cy="1457.7" rx="11.0" ry="12.3" fill="#beebfb" stroke="#000" stroke-width="1.5"/>
<ellipse cx="1851.6" cy="1420.1" rx="21.0" ry="24.1" fill="#4678ab" stroke="#000" stroke-width="1.7"/><ellipse cx="1851.6" cy="1420.1" rx="11.0" ry="12.3" fill="#beebfb" stroke="#000" stroke-width="1.5"/>
<ellipse cx="1851.6" cy="1532.9" rx="21.0" ry="24.1" fill="#4678ab" stroke="#000" stroke-width="1.7"/><ellipse cx="1851.6" cy="1532.9" rx="11.0" ry="12.3" fill="#beebfb" stroke="#000" stroke-width="1.5"/>
<ellipse cx="1851.6" cy="1495.3" rx="21.0" ry="24.1" fill="#4678ab" stroke="#000" stroke-width="1.7"/><ellipse cx="1851.6" cy="1495.3" rx="11.0" ry="12.3" fill="#beebfb" stroke="#000" stroke-width="1.5"/>
<ellipse cx="1851.6" cy="1570.5" rx="21.0" ry="24.1" fill="#4678ab" stroke="#000" stroke-width="1.7"/><ellipse cx="1851.6" cy="1570.5" rx="11.0" ry="12.3" fill="#beebfb" stroke="#000" stroke-width="1.5"/>
<ellipse cx="1851.6" cy="1608.0" rx="21.0" ry="24.1" fill="#4678ab" stroke="#000" stroke-width="1.7"/><ellipse cx="1851.6" cy="1608.0" rx="11.0" ry="12.3" fill="#beebfb" stroke="#000" stroke-width="1.5"/>
<ellipse cx="1851.6" cy="1683.2" rx="21.0" ry="24.1" fill="#4678ab" stroke="#000" stroke-width="1.7"/><ellipse cx="1851.6" cy="1683.2" rx="11.0" ry="12.3" fill="#beebfb" stroke="#000" stroke-width="1.5"/>
<ellipse cx="1851.6" cy="1645.6" rx="21.0" ry="24.1" fill="#4678ab" stroke="#000" stroke-width="1.7"/><ellipse cx="1851.6" cy="1645.6" rx="11.0" ry="12.3" fill="#beebfb" stroke="#000" stroke-width="1.5"/>
<ellipse cx="1851.6" cy="1720.8" rx="21.0" ry="24.1" fill="#4678ab" stroke="#000" stroke-width="1.7"/><ellipse cx="1851.6" cy="1720.8" rx="11.0" ry="12.3" fill="#beebfb" stroke="#000" stroke-width="1.5"/>
<ellipse cx="1851.6" cy="1758.4" rx="21.0" ry="24.1" fill="#4678ab" stroke="#000" stroke-width="1.7"/><ellipse cx="1851.6" cy="1758.4" rx="11.0" ry="12.3" fill="#beebfb" stroke="#000" stroke-width="1.5"/>
<ellipse cx="1851.6" cy="1833.5" rx="21.0" ry="24.1" fill="#4678ab" stroke="#000" stroke-width="1.7"/><ellipse cx="1851.6" cy="1833.5" rx="11.0" ry="12.3" fill="#beebfb" stroke="#000" stroke-width="1.5"/>
<ellipse cx="1851.6" cy="1795.9" rx="21.0" ry="24.1" fill="#4678ab" stroke="#000" stroke-width="1.7"/><ellipse cx="1851.6" cy="1795.9" rx="11.0" ry="12.3" fill="#beebfb" stroke="#000" stroke-width="1.5"/>
<ellipse cx="1851.6" cy="1871.1" rx="21.0" ry="24.1" fill="#4678ab" stroke="#000" stroke-width="1.7"/><ellipse cx="1851.6" cy="1871.1" rx="11.0" ry="12.3" fill="#beebfb" stroke="#000" stroke-width="1.5"/>
<ellipse cx="1851.6" cy="1908.7" rx="21.0" ry="24.1" fill="#4678ab" stroke="#000" stroke-width="1.7"/><ellipse cx="1851.6" cy="1908.7" rx="11.0" ry="12.3" fill="#beebfb" stroke="#000" stroke-width="1.5"/>
<ellipse cx="1851.6" cy="1946.3" rx="21.0" ry="24.1" fill="#4678ab" stroke="#000" stroke-width="1.7"/><ellipse cx="1851.6" cy="1946.3" rx="11.0" ry="12.3" fill="#beebfb" stroke="#000" stroke-width="1.5"/>
<ellipse cx="1851.6" cy="1983.8" rx="21.0" ry="24.1" fill="#4678ab" stroke="#000" stroke-width="1.7"/><ellipse cx="1851.6" cy="1983.8" rx="11.0" ry="12.3" fill="#beebfb" stroke="#000" stroke-width="1.5"/>
<ellipse cx="1851.6" cy="2059.0" rx="21.0" ry="24.1" fill="#4678ab" stroke="#000" stroke-width="1.7"/><ellipse cx="1851.6" cy="2059.0" rx="11.0" ry="12.3" fill="#beebfb" stroke="#000" stroke-width="1.5"/>
<ellipse cx="1851.6" cy="2021.4" rx="21.0" ry="24.1" fill="#4678ab" stroke="#000" stroke-width="1.7"/><ellipse cx="1851.6" cy="2021.4" rx="11.0" ry="12.3" fill="#beebfb" stroke="#000" stroke-width="1.5"/>
<ellipse cx="1851.6" cy="2096.6" rx="21.0" ry="24.1" fill="#4678ab" stroke="#000" stroke-width="1.7"/><ellipse cx="1851.6" cy="2096.6" rx="11.0" ry="12.3" fill="#beebfb" stroke="#000" stroke-width="1.5"/>
<ellipse cx="1851.6" cy="2171.7" rx="21.0" ry="24.1" fill="#4678ab" stroke="#000" stroke-width="1.7"/><ellipse cx="1851.6" cy="2171.7" rx="11.0" ry="12.3" fill="#beebfb" stroke="#000" stroke-width="1.5"/>
<ellipse cx="1851.6" cy="2134.2" rx="21.0" ry="24.1" fill="#4678ab" stroke="#000" stroke-width="1.7"/><ellipse cx="1851.6" cy="2134.2" rx="11.0" ry="12.3" fill="#beebfb" stroke="#000" stroke-width="1.5"/>
<ellipse cx="1851.6" cy="2246.9" rx="21.0" ry="24.1" fill="#4678ab" stroke="#000" stroke-width="1.7"/><ellipse cx="1851.6" cy="2246.9" rx="11.0" ry="12.3" fill="#beebfb" stroke="#000" stroke-width="1.5"/>
<ellipse cx="1851.6" cy="2209.3" rx="21.0" ry="24.1" fill="#4678ab" stroke="#000" stroke-width="1.7"/><ellipse cx="1851.6" cy="2209.3" rx="11.0" ry="12.3" fill="#beebfb" stroke="#000" stroke-width="1.5"/>
<ellipse cx="1851.6" cy="2284.5" rx="21.0" ry="24.1" fill="#4678ab" stroke="#000" stroke-width="1.7"/><ellipse cx="1851.6" cy="2284.5" rx="11.0" ry="12.3" fill="#beebfb" stroke="#000" stroke-width="1.5"/>
<ellipse cx="1851.6" cy="2322.1" rx="21.0" ry="24.1" fill="#4678ab" stroke="#000" stroke-width="1.7"/><ellipse cx="1851.6" cy="2322.1" rx="11.0" ry="12.3" fill="#beebfb" stroke="#000" stroke-width="1.5"/>
<ellipse cx="1851.6" cy="2397.2" rx="21.0" ry="24.1" fill="#4678ab" stroke="#000" stroke-width="1.7"/><ellipse cx="1851.6" cy="2397.2" rx="11.0" ry="12.3" fill="#beebfb" stroke="#000" stroke-width="1.5"/>
<ellipse cx="1851.6" cy="2359.6" rx="21.0" ry="24.1" fill="#4678ab" stroke="#000" stroke-width="1.7"/><ellipse cx="1851.6" cy="2359.6" rx="11.0" ry="12.3" fill="#beebfb" stroke="#000" stroke-width="1.5"/>
<ellipse cx="1851.6" cy="2434.8" rx="21.0" ry="24.1" fill="#4678ab" stroke="#000" stroke-width="1.7"/><ellipse cx="1851.6" cy="2434.8" rx="11.0" ry="12.3" fill="#beebfb" stroke="#000" stroke-width="1.5"/>
<ellipse cx="1851.6" cy="2510.0" rx="21.0" ry="24.1" fill="#4678ab" stroke="#000" stroke-width="1.7"/><ellipse cx="1851.6" cy="2510.0" rx="11.0" ry="12.3" fill="#beebfb" stroke="#000" stroke-width="1.5"/>
<ellipse cx="1851.6" cy="2472.4" rx="21.0" ry="24.1" fill="#4678ab" stroke="#000" stroke-width="1.7"/><ellipse cx="1851.6" cy="2472.4" rx="11.0" ry="12.3" fill="#beebfb" stroke="#000" stroke-width="1.5"/>
<ellipse cx="1851.6" cy="2547.5" rx="21.0" ry="24.1" fill="#4678ab" stroke="#000" stroke-width="1.7"/><ellipse cx="1851.6" cy="2547.5" rx="11.0" ry="12.3" fill="#beebfb" stroke="#000" stroke-width="1.5"/>
<ellipse cx="1851.6" cy="2585.1" rx="21.0" ry="24.1" fill="#4678ab" stroke="#000" stroke-width="1.7"/><ellipse cx="1851.6" cy="2585.1" rx="11.0" ry="12.3" fill="#beebfb" stroke="#000" stroke-width="1.5"/>
<ellipse cx="1851.6" cy="2660.3" rx="21.0" ry="24.1" fill="#4678ab" stroke="#000" stroke-width="1.7"/><ellipse cx="1851.6" cy="2660.3" rx="11.0" ry="12.3" fill="#beebfb" stroke="#000" stroke-width="1.5"/>
<ellipse cx="1851.6" cy="2622.7" rx="21.0" ry="24.1" fill="#4678ab" stroke="#000" stroke-width="1.7"/><ellipse cx="1851.6" cy="2622.7" rx="11.0" ry="12.3" fill="#beebfb" stroke="#000" stroke-width="1.5"/>
<ellipse cx="1851.6" cy="2735.4" rx="21.0" ry="24.1" fill="#4678ab" stroke="#000" stroke-width="1.7"/><ellipse cx="1851.6" cy="2735.4" rx="11.0" ry="12.3" fill="#beebfb" stroke="#000" stroke-width="1.5"/>
<ellipse cx="1851.6" cy="2697.9" rx="21.0" ry="24.1" fill="#4678ab" stroke="#000" stroke-width="1.7"/><ellipse cx="1851.6" cy="2697.9" rx="11.0" ry="12.3" fill="#beebfb" stroke="#000" stroke-width="1.5"/>
<ellipse cx="1851.6" cy="2773.0" rx="21.0" ry="24.1" fill="#4678ab" stroke="#000" stroke-width="1.7"/><ellipse cx="1851.6" cy="2773.0" rx="11.0" ry="12.3" fill="#beebfb" stroke="#000" stroke-width="1.5"/>
<ellipse cx="1851.6" cy="2810.6" rx="21.0" ry="24.1" fill="#4678ab" stroke="#000" stroke-width="1.7"/><ellipse cx="1851.6" cy="2810.6" rx="11.0" ry="12.3" fill="#beebfb" stroke="#000" stroke-width="1.5"/>
<ellipse cx="1851.6" cy="2848.2" rx="21.0" ry="24.1" fill="#4678ab" stroke="#000" stroke-width="1.7"/><ellipse cx="1851.6" cy="2848.2" rx="11.0" ry="12.3" fill="#beebfb" stroke="#000" stroke-width="1.5"/>
<ellipse cx="1851.6" cy="2885.8" rx="21.0" ry="24.1" fill="#4678ab" stroke="#000" stroke-width="1.7"/><ellipse cx="1851.6" cy="2885.8" rx="11.0" ry="12.3" fill="#beebfb" stroke="#000" stroke-width="1.5"/>
<ellipse cx="1851.6" cy="2923.3" rx="21.0" ry="24.1" fill="#4678ab" stroke="#000" stroke-width="1.7"/><ellipse cx="1851.6" cy="2923.3" rx="11.0" ry="12.3" fill="#beebfb" stroke="#000" stroke-width="1.5"/>
<ellipse cx="1851.6" cy="2960.9" rx="21.0" ry="24.1" fill="#4678ab" stroke="#000" stroke-width="1.7"/><ellipse cx="1851.6" cy="2960.9" rx="11.0" ry="12.3" fill="#beebfb" stroke="#000" stroke-width="1.5"/>
<ellipse cx="1851.6" cy="3036.1" rx="21.0" ry="24.1" fill="#4678ab" stroke="#000" stroke-width="1.7"/><ellipse cx="1851.6" cy="3036.1" rx="11.0" ry="12.3" fill="#beebfb" stroke="#000" stroke-width="1.5"/>
<ellipse cx="1851.6" cy="2998.5" rx="21.0" ry="24.1" fill="#4678ab" stroke="#000" stroke-width="1.7"/><ellipse cx="1851.6" cy="2998.5" rx="11.0" ry="12.3" fill="#beebfb" stroke="#000" stroke-width="1.5"/>
<path d="M4226.3 191.3V653.3M4226.3 191.3H4186.8M4186.8 134.6V248.1M4186.8 134.6H4114.4M4186.8 248.1H4147.8M4147.8 191.6V304.7M4147.8 191.6H2931.0M2931.0 172.7V210.4M2931.0 172.7H2461.2M2931.0 210.4H2461.2M4147.8 304.7H4105.4M4105.4 267.0V342.4M4105.4 267.0H4039.3M4039.3 248.1V285.8M4039.3 248.1H2461.2M4039.3 285.8H2461.2M4105.4 342.4H4035.3M4035.3 323.5V361.2M4035.3 323.5H2461.2M4035.3 361.2H2461.2M4226.3 653.3H4219.8M4219.8 474.3V832.2M4219.8 474.3H4086.8M4086.8 417.8V530.9M4086.8 417.8H3690.2M3690.2 398.9V436.6M3690.2 398.9H2461.2M3690.2 436.6H2461.2M4086.8 530.9H3409.4M3409.4 493.2V568.6M3409.4 493.2H3086.1M3086.1 474.3V512.0M3086.1 474.3H2461.2M3086.1 512.0H2461.2M3409.4 568.6H2847.5M2847.5 549.7V587.4M2847.5 549.7H2461.2M2847.5 587.4H2461.2M4219.8 832.2H4177.2M4177.2 624.6V1039.8M4177.2 624.6H3925.8M4177.2 1039.8H4134.6M4134.6 755.9V1323.7M4134.6 755.9H4109.2M4109.2 662.8V876.3M4109.2 662.8H3943.8M4109.2 728.8H3786.6M3786.6 700.5V757.1M3786.6 700.5H2461.2M3786.6 757.1H3745.0M3745.0 738.2V775.9M3745.0 738.2H2461.2M3745.0 775.9H2461.2M4109.2 876.3H4085.0M4085.0 813.3V945.4M4085.0 813.3H4059.6M4085.0 870.1H4007.2M4007.2 851.5V888.8M4007.2 851.5H3937.8M4007.2 888.8H3954.8M4085.0 945.4H3964.5M3964.5 926.5V964.2M3964.5 926.5H3501.8M3964.5 964.2H3869.0M4134.6 1323.7H4013.5M4013.5 1110.5V1536.9M4013.5 1110.5H3898.2M3898.2 1035.1V1185.9M3898.2 1035.1H3265.3M3265.3 1002.1V1068.1M3265.3 1002.1H2461.2M3265.3 1068.1H2904.1M2904.1 1039.8V1096.4M2904.1 1039.8H2461.2M2904.1 1096.4H2809.6M2809.6 1077.5V1115.2M2809.6 1077.5H2461.2M2809.6 1115.2H2461.2M3898.2 1185.9H2969.8M2969.8 1152.9V1218.9M2969.8 1152.9H2461.2M2969.8 1218.9H2734.0M2734.0 1190.6V1247.2M2734.0 1190.6H2461.2M2734.0 1247.2H2649.9M2649.9 1228.3V1266.0M2649.9 1228.3H2461.2M2649.9 1266.0H2461.2M4013.5 1536.9H3893.4M3893.4 1332.0V1741.7M3893.4 1332.0H3539.5M3539.5 1303.7V1360.3M3539.5 1303.7H2461.2M3539.5 1360.3H3343.3M3343.3 1341.4V1379.1M3343.3 1341.4H2461.2M3343.3 1379.1H2461.2M3893.4 1741.7H3783.7M3783.7 1495.7V1987.7M3783.7 1495.7H3661.1M3661.1 1435.7V1555.8M3661.1 1435.7H2908.8M2908.8 1416.8V1454.5M2908.8 1416.8H2461.2M2908.8 1454.5H2461.2M3661.1 1555.8H3121.0M3121.0 1511.1V1600.6M3121.0 1511.1H3068.6M3068.6 1492.2V1529.9M3068.6 1492.2H2461.2M3068.6 1529.9H2461.2M3121.0 1600.6H2986.6M2986.6 1567.6V1633.6M2986.6 1567.6H2461.2M2986.6 1633.6H2728.9M2728.9 1605.3V1661.9M2728.9 1605.3H2461.2M2728.9 1661.9H2628.8M2628.8 1643.0V1680.7M2628.8 1643.0H2461.2M2628.8 1680.7H2461.2M3783.7 1987.7H3697.8M3697.8 1763.0V2212.4M3697.8 1763.0H3289.4M3289.4 1718.4V1807.7M3289.4 1718.4H2461.2M3289.4 1807.7H3110.7M3110.7 1756.1V1859.2M3110.7 1756.1H2461.2M3110.7 1859.2H2980.1M2980.1 1812.7V1905.7M2980.1 1812.7H2608.2M2608.2 1793.8V1831.5M2608.2 1793.8H2461.2M2608.2 1831.5H2461.2M2980.1 1905.7H2815.6M2815.6 1869.2V1942.3M2815.6 1869.2H2461.2M2815.6 1942.3H2759.8M2759.8 1906.9V1977.6M2759.8 1906.9H2461.2M2759.8 1977.6H2658.5M2658.5 1944.6V2010.6M2658.5 1944.6H2461.2M2658.5 2010.6H2576.4M2576.4 1982.3V2038.9M2576.4 1982.3H2461.2M2576.4 2038.9H2493.5M2493.5 2020.0V2057.7M2493.5 2020.0H2461.2M2493.5 2057.7H2461.2M3697.8 2212.4H3631.7M3631.7 2123.7V2301.1M3631.7 2123.7H2808.8M2808.8 2095.4V2152.0M2808.8 2095.4H2461.2M2808.8 2152.0H2659.3M2659.3 2133.1V2170.8M2659.3 2133.1H2461.2M2659.3 2170.8H2461.2M3631.7 2301.1H3544.5M3544.5 2227.4V2374.9M3544.5 2227.4H2975.8M2975.8 2208.5V2246.2M2975.8 2208.5H2461.2M2975.8 2246.2H2461.2M3544.5 2374.9H3502.8M3502.8 2283.9V2465.9M3502.8 2283.9H2461.2M3502.8 2465.9H3426.8M3426.8 2349.9V2581.9M3426.8 2349.9H3317.3M3317.3 2321.6V2378.2M3317.3 2321.6H2461.2M3317.3 2378.2H2723.0M2723.0 2359.3V2397.0M2723.0 2359.3H2461.2M2723.0 2397.0H2461.2M3426.8 2581.9H3380.0M3380.0 2463.0V2700.8M3380.0 2463.0H3123.8M3123.8 2434.7V2491.3M3123.8 2434.7H2461.2M3123.8 2491.3H2900.8M2900.8 2472.4V2510.1M2900.8 2472.4H2461.2M2900.8 2510.1H2461.2M3380.0 2700.8H3102.8M3102.8 2590.2V2811.4M3102.8 2590.2H2939.3M2939.3 2547.8V2632.6M2939.3 2547.8H2461.2M2939.3 2632.6H2758.0M2758.0 2585.5V2679.8M2758.0 2585.5H2461.2M2758.0 2679.8H2709.5M2709.5 2642.1V2717.5M2709.5 2642.1H2505.7M2505.7 2623.2V2660.9M2505.7 2623.2H2461.2M2505.7 2660.9H2461.2M2709.5 2717.5H2667.8M2667.8 2698.6V2736.3M2667.8 2698.6H2461.2M2667.8 2736.3H2461.2M3102.8 2811.4H3041.4M3041.4 2774.0V2848.8M3041.4 2774.0H2461.2M3041.4 2848.8H2994.3M2994.3 2811.7V2885.9M2994.3 2811.7H2461.2M2994.3 2885.9H2896.2M2896.2 2849.4V2922.5M2896.2 2849.4H2461.2M2896.2 2922.5H2812.9M2812.9 2887.1V2957.8M2812.9 2887.1H2461.2M2812.9 2957.8H2767.5M2767.5 2924.8V2990.8M2767.5 2924.8H2461.2M2767.5 2990.8H2700.0M2700.0 2962.5V3019.1M2700.0 2962.5H2461.2M2700.0 3019.1H2639.6M2639.6 3000.2V3037.9M2639.6 3000.2H2461.2M2639.6 3037.9H2461.2" fill="none" stroke="#000" stroke-width="5.7" stroke-linecap="round"/>
<ellipse cx="4114.4" cy="134.6" rx="15.6" ry="17.8" fill="#d3d7d2" stroke="#000" stroke-width="1.6"/>
<ellipse cx="3925.8" cy="624.6" rx="15.6" ry="17.8" fill="#beebfb" stroke="#000" stroke-width="1.6"/>
<ellipse cx="3943.8" cy="662.8" rx="15.6" ry="17.8" fill="#eba70c" stroke="#000" stroke-width="1.6"/>
<ellipse cx="4059.6" cy="813.3" rx="15.6" ry="17.8" fill="#d3d7d2" stroke="#000" stroke-width="1.6"/>
<path d="M3937.8 851.5L3922.20 851.47A15.6 17.8 0 0 1 3937.80 833.67Z" fill="#d3d7d2" stroke="#000" stroke-width="1.6" stroke-linejoin="round"/><path d="M3937.8 851.5L3937.80 833.67A15.6 17.8 0 0 1 3953.40 851.47Z" fill="#beebfb" stroke="#000" stroke-width="1.6" stroke-linejoin="round"/><path d="M3937.8 851.5L3953.40 851.47A15.6 17.8 0 0 1 3937.80 869.27Z" fill="#dfa299" stroke="#000" stroke-width="1.6" stroke-linejoin="round"/><path d="M3937.8 851.5L3937.80 869.27A15.6 17.8 0 0 1 3922.20 851.47Z" fill="#eba70c" stroke="#000" stroke-width="1.6" stroke-linejoin="round"/>
<ellipse cx="3954.8" cy="888.8" rx="15.6" ry="17.8" fill="#eba70c" stroke="#000" stroke-width="1.6"/>
<path d="M3501.8 926.5L3486.20 926.50A15.6 17.8 0 0 1 3501.80 908.70Z" fill="#d3d7d2" stroke="#000" stroke-width="1.6" stroke-linejoin="round"/><path d="M3501.8 926.5L3501.80 908.70A15.6 17.8 0 0 1 3517.40 926.50Z" fill="#beebfb" stroke="#000" stroke-width="1.6" stroke-linejoin="round"/><path d="M3501.8 926.5L3517.40 926.50A15.6 17.8 0 0 1 3501.80 944.30Z" fill="#dfa299" stroke="#000" stroke-width="1.6" stroke-linejoin="round"/><path d="M3501.8 926.5L3501.80 944.30A15.6 17.8 0 0 1 3486.20 926.50Z" fill="#eba70c" stroke="#000" stroke-width="1.6" stroke-linejoin="round"/>
<ellipse cx="3869.0" cy="964.2" rx="15.6" ry="17.8" fill="#beebfb" stroke="#000" stroke-width="1.6"/>
<ellipse cx="2461.2" cy="210.4" rx="15.6" ry="17.8" fill="#d3d7d2" stroke="#000" stroke-width="1.6"/>
<ellipse cx="2461.2" cy="172.7" rx="15.6" ry="17.8" fill="#d3d7d2" stroke="#000" stroke-width="1.6"/>
<ellipse cx="2461.2" cy="285.8" rx="15.6" ry="17.8" fill="#d3d7d2" stroke="#000" stroke-width="1.6"/>
<ellipse cx="2461.2" cy="248.1" rx="15.6" ry="17.8" fill="#d3d7d2" stroke="#000" stroke-width="1.6"/>
<ellipse cx="2461.2" cy="361.2" rx="15.6" ry="17.8" fill="#dfa299" stroke="#000" stroke-width="1.6"/>
<ellipse cx="2461.2" cy="323.5" rx="15.6" ry="17.8" fill="#d3d7d2" stroke="#000" stroke-width="1.6"/>
<ellipse cx="2461.2" cy="436.6" rx="15.6" ry="17.8" fill="#d3d7d2" stroke="#000" stroke-width="1.6"/>
<ellipse cx="2461.2" cy="398.9" rx="15.6" ry="17.8" fill="#beebfb" stroke="#000" stroke-width="1.6"/>
<ellipse cx="2461.2" cy="512.0" rx="15.6" ry="17.8" fill="#dfa299" stroke="#000" stroke-width="1.6"/>
<ellipse cx="2461.2" cy="474.3" rx="15.6" ry="17.8" fill="#dfa299" stroke="#000" stroke-width="1.6"/>
<ellipse cx="2461.2" cy="549.7" rx="15.6" ry="17.8" fill="#dfa299" stroke="#000" stroke-width="1.6"/>
<ellipse cx="2461.2" cy="587.4" rx="15.6" ry="17.8" fill="#dfa299" stroke="#000" stroke-width="1.6"/>
<ellipse cx="2461.2" cy="700.5" rx="15.6" ry="17.8" fill="#beebfb" stroke="#000" stroke-width="1.6"/>
<ellipse cx="2461.2" cy="775.9" rx="15.6" ry="17.8" fill="#beebfb" stroke="#000" stroke-width="1.6"/>
<ellipse cx="2461.2" cy="738.2" rx="15.6" ry="17.8" fill="#beebfb" stroke="#000" stroke-width="1.6"/>
<ellipse cx="2461.2" cy="1002.1" rx="15.6" ry="17.8" fill="#d3d7d2" stroke="#000" stroke-width="1.6"/>
<ellipse cx="2461.2" cy="1039.8" rx="15.6" ry="17.8" fill="#beebfb" stroke="#000" stroke-width="1.6"/>
<ellipse cx="2461.2" cy="1115.2" rx="15.6" ry="17.8" fill="#d3d7d2" stroke="#000" stroke-width="1.6"/>
<ellipse cx="2461.2" cy="1077.5" rx="15.6" ry="17.8" fill="#d3d7d2" stroke="#000" stroke-width="1.6"/>
<ellipse cx="2461.2" cy="1152.9" rx="15.6" ry="17.8" fill="#d3d7d2" stroke="#000" stroke-width="1.6"/>
<ellipse cx="2461.2" cy="1190.6" rx="15.6" ry="17.8" fill="#dfa299" stroke="#000" stroke-width="1.6"/>
<ellipse cx="2461.2" cy="1266.0" rx="15.6" ry="17.8" fill="#d3d7d2" stroke="#000" stroke-width="1.6"/>
<ellipse cx="2461.2" cy="1228.3" rx="15.6" ry="17.8" fill="#d3d7d2" stroke="#000" stroke-width="1.6"/>
<ellipse cx="2461.2" cy="1303.7" rx="15.6" ry="17.8" fill="#beebfb" stroke="#000" stroke-width="1.6"/>
<ellipse cx="2461.2" cy="1379.1" rx="15.6" ry="17.8" fill="#beebfb" stroke="#000" stroke-width="1.6"/>
<ellipse cx="2461.2" cy="1341.4" rx="15.6" ry="17.8" fill="#beebfb" stroke="#000" stroke-width="1.6"/>
<ellipse cx="2461.2" cy="1454.5" rx="15.6" ry="17.8" fill="#beebfb" stroke="#000" stroke-width="1.6"/>
<ellipse cx="2461.2" cy="1416.8" rx="15.6" ry="17.8" fill="#beebfb" stroke="#000" stroke-width="1.6"/>
<ellipse cx="2461.2" cy="1529.9" rx="15.6" ry="17.8" fill="#beebfb" stroke="#000" stroke-width="1.6"/>
<ellipse cx="2461.2" cy="1492.2" rx="15.6" ry="17.8" fill="#beebfb" stroke="#000" stroke-width="1.6"/>
<ellipse cx="2461.2" cy="1567.6" rx="15.6" ry="17.8" fill="#beebfb" stroke="#000" stroke-width="1.6"/>
<ellipse cx="2461.2" cy="1605.3" rx="15.6" ry="17.8" fill="#beebfb" stroke="#000" stroke-width="1.6"/>
<ellipse cx="2461.2" cy="1680.7" rx="15.6" ry="17.8" fill="#beebfb" stroke="#000" stroke-width="1.6"/>
<ellipse cx="2461.2" cy="1643.0" rx="15.6" ry="17.8" fill="#beebfb" stroke="#000" stroke-width="1.6"/>
<ellipse cx="2461.2" cy="1718.4" rx="15.6" ry="17.8" fill="#beebfb" stroke="#000" stroke-width="1.6"/>
<ellipse cx="2461.2" cy="1756.1" rx="15.6" ry="17.8" fill="#beebfb" stroke="#000" stroke-width="1.6"/>
<ellipse cx="2461.2" cy="1831.5" rx="15.6" ry="17.8" fill="#beebfb" stroke="#000" stroke-width="1.6"/>
<ellipse cx="2461.2" cy="1793.8" rx="15.6" ry="17.8" fill="#beebfb" stroke="#000" stroke-width="1.6"/>
<ellipse cx="2461.2" cy="1869.2" rx="15.6" ry="17.8" fill="#beebfb" stroke="#000" stroke-width="1.6"/>
<ellipse cx="2461.2" cy="1906.9" rx="15.6" ry="17.8" fill="#beebfb" stroke="#000" stroke-width="1.6"/>
<ellipse cx="2461.2" cy="1944.6" rx="15.6" ry="17.8" fill="#beebfb" stroke="#000" stroke-width="1.6"/>
<ellipse cx="2461.2" cy="1982.3" rx="15.6" ry="17.8" fill="#beebfb" stroke="#000" stroke-width="1.6"/>
<ellipse cx="2461.2" cy="2057.7" rx="15.6" ry="17.8" fill="#beebfb" stroke="#000" stroke-width="1.6"/>
<ellipse cx="2461.2" cy="2020.0" rx="15.6" ry="17.8" fill="#beebfb" stroke="#000" stroke-width="1.6"/>
<ellipse cx="2461.2" cy="2095.4" rx="15.6" ry="17.8" fill="#beebfb" stroke="#000" stroke-width="1.6"/>
<ellipse cx="2461.2" cy="2170.8" rx="15.6" ry="17.8" fill="#beebfb" stroke="#000" stroke-width="1.6"/>
<ellipse cx="2461.2" cy="2133.1" rx="15.6" ry="17.8" fill="#beebfb" stroke="#000" stroke-width="1.6"/>
<ellipse cx="2461.2" cy="2246.2" rx="15.6" ry="17.8" fill="#beebfb" stroke="#000" stroke-width="1.6"/>
<ellipse cx="2461.2" cy="2208.5" rx="15.6" ry="17.8" fill="#beebfb" stroke="#000" stroke-width="1.6"/>
<ellipse cx="2461.2" cy="2283.9" rx="15.6" ry="17.8" fill="#beebfb" stroke="#000" stroke-width="1.6"/>
<ellipse cx="2461.2" cy="2321.6" rx="15.6" ry="17.8" fill="#beebfb" stroke="#000" stroke-width="1.6"/>
<ellipse cx="2461.2" cy="2397.0" rx="15.6" ry="17.8" fill="#beebfb" stroke="#000" stroke-width="1.6"/>
<ellipse cx="2461.2" cy="2359.3" rx="15.6" ry="17.8" fill="#beebfb" stroke="#000" stroke-width="1.6"/>
<ellipse cx="2461.2" cy="2434.7" rx="15.6" ry="17.8" fill="#beebfb" stroke="#000" stroke-width="1.6"/>
<ellipse cx="2461.2" cy="2510.1" rx="15.6" ry="17.8" fill="#beebfb" stroke="#000" stroke-width="1.6"/>
<ellipse cx="2461.2" cy="2472.4" rx="15.6" ry="17.8" fill="#beebfb" stroke="#000" stroke-width="1.6"/>
<ellipse cx="2461.2" cy="2547.8" rx="15.6" ry="17.8" fill="#beebfb" stroke="#000" stroke-width="1.6"/>
<ellipse cx="2461.2" cy="2585.5" rx="15.6" ry="17.8" fill="#beebfb" stroke="#000" stroke-width="1.6"/>
<ellipse cx="2461.2" cy="2660.9" rx="15.6" ry="17.8" fill="#beebfb" stroke="#000" stroke-width="1.6"/>
<ellipse cx="2461.2" cy="2623.2" rx="15.6" ry="17.8" fill="#beebfb" stroke="#000" stroke-width="1.6"/>
<ellipse cx="2461.2" cy="2736.3" rx="15.6" ry="17.8" fill="#beebfb" stroke="#000" stroke-width="1.6"/>
<ellipse cx="2461.2" cy="2698.6" rx="15.6" ry="17.8" fill="#beebfb" stroke="#000" stroke-width="1.6"/>
<ellipse cx="2461.2" cy="2774.0" rx="15.6" ry="17.8" fill="#beebfb" stroke="#000" stroke-width="1.6"/>
<ellipse cx="2461.2" cy="2811.7" rx="15.6" ry="17.8" fill="#beebfb" stroke="#000" stroke-width="1.6"/>
<ellipse cx="2461.2" cy="2849.4" rx="15.6" ry="17.8" fill="#beebfb" stroke="#000" stroke-width="1.6"/>
<ellipse cx="2461.2" cy="2887.1" rx="15.6" ry="17.8" fill="#beebfb" stroke="#000" stroke-width="1.6"/>
<ellipse cx="2461.2" cy="2924.8" rx="15.6" ry="17.8" fill="#beebfb" stroke="#000" stroke-width="1.6"/>
<ellipse cx="2461.2" cy="2962.5" rx="15.6" ry="17.8" fill="#beebfb" stroke="#000" stroke-width="1.6"/>
<ellipse cx="2461.2" cy="3037.9" rx="15.6" ry="17.8" fill="#beebfb" stroke="#000" stroke-width="1.6"/>
<ellipse cx="2461.2" cy="3000.2" rx="15.6" ry="17.8" fill="#beebfb" stroke="#000" stroke-width="1.6"/>
<path d="M4226.3 422.3L4205.60 422.30A20.7 23.9 0 1 1 4205.69 424.55Z" fill="#d3d7d2" stroke="#000" stroke-width="1.6" stroke-linejoin="round"/><path d="M4226.3 422.3L4205.69 424.55A20.7 23.9 0 0 1 4205.60 422.30Z" fill="#beebfb" stroke="#000" stroke-width="1.6" stroke-linejoin="round"/>
<ellipse cx="4186.8" cy="191.3" rx="20.7" ry="23.9" fill="#d3d7d2" stroke="#000" stroke-width="1.6"/>
<path d="M4186.8 191.3H4166.1" stroke="#000" stroke-width="1.6"/>
<ellipse cx="4147.8" cy="248.1" rx="20.7" ry="23.9" fill="#d3d7d2" stroke="#000" stroke-width="1.6"/>
<path d="M4147.8 248.1H4127.1" stroke="#000" stroke-width="1.6"/>
<ellipse cx="2931.0" cy="191.6" rx="20.7" ry="23.9" fill="#d3d7d2" stroke="#000" stroke-width="1.6"/>
<path d="M2931.0 191.6H2910.3" stroke="#000" stroke-width="1.6"/>
<ellipse cx="4105.4" cy="304.7" rx="20.7" ry="23.9" fill="#d3d7d2" stroke="#000" stroke-width="1.6"/>
<path d="M4105.4 304.7H4084.7" stroke="#000" stroke-width="1.6"/>
<ellipse cx="4039.3" cy="267.0" rx="20.7" ry="23.9" fill="#d3d7d2" stroke="#000" stroke-width="1.6"/>
<path d="M4039.3 267.0H4018.6" stroke="#000" stroke-width="1.6"/>
<ellipse cx="4035.3" cy="342.4" rx="20.7" ry="23.9" fill="#d3d7d2" stroke="#000" stroke-width="1.6"/>
<path d="M4035.3 342.4H4014.6" stroke="#000" stroke-width="1.6"/>
<path d="M4219.8 653.3L4199.10 653.26A20.7 23.9 0 1 1 4199.47 657.74Z" fill="#d3d7d2" stroke="#000" stroke-width="1.6" stroke-linejoin="round"/><path d="M4219.8 653.3L4199.47 657.74A20.7 23.9 0 0 1 4199.10 653.26Z" fill="#beebfb" stroke="#000" stroke-width="1.6" stroke-linejoin="round"/>
<path d="M4086.8 474.3L4066.10 474.30A20.7 23.9 0 1 1 4066.75 480.25Z" fill="#d3d7d2" stroke="#000" stroke-width="1.6" stroke-linejoin="round"/><path d="M4086.8 474.3L4066.75 480.25A20.7 23.9 0 0 1 4066.26 477.30Z" fill="#beebfb" stroke="#000" stroke-width="1.6" stroke-linejoin="round"/><path d="M4086.8 474.3L4066.26 477.30A20.7 23.9 0 0 1 4066.10 474.30Z" fill="#dfa299" stroke="#000" stroke-width="1.6" stroke-linejoin="round"/>
<path d="M3690.2 417.8L3669.50 417.75A20.7 23.9 0 1 1 3673.45 431.80Z" fill="#d3d7d2" stroke="#000" stroke-width="1.6" stroke-linejoin="round"/><path d="M3690.2 417.8L3673.45 431.80A20.7 23.9 0 0 1 3669.50 417.75Z" fill="#beebfb" stroke="#000" stroke-width="1.6" stroke-linejoin="round"/>
<path d="M3409.4 530.9L3388.70 530.85A20.7 23.9 0 0 1 3388.86 527.86Z" fill="#d3d7d2" stroke="#000" stroke-width="1.6" stroke-linejoin="round"/><path d="M3409.4 530.9L3388.86 527.86A20.7 23.9 0 1 1 3388.70 530.85Z" fill="#dfa299" stroke="#000" stroke-width="1.6" stroke-linejoin="round"/>
<ellipse cx="3086.1" cy="493.2" rx="20.7" ry="23.9" fill="#dfa299" stroke="#000" stroke-width="1.6"/>
<path d="M3086.1 493.2H3065.4" stroke="#000" stroke-width="1.6"/>
<ellipse cx="2847.5" cy="568.6" rx="20.7" ry="23.9" fill="#dfa299" stroke="#000" stroke-width="1.6"/>
<path d="M2847.5 568.6H2826.8" stroke="#000" stroke-width="1.6"/>
<path d="M4177.2 832.2L4156.50 832.22A20.7 23.9 0 0 1 4156.87 827.75Z" fill="#d3d7d2" stroke="#000" stroke-width="1.6" stroke-linejoin="round"/><path d="M4177.2 832.2L4156.87 827.75A20.7 23.9 0 1 1 4156.50 832.22Z" fill="#beebfb" stroke="#000" stroke-width="1.6" stroke-linejoin="round"/>
<ellipse cx="4134.6" cy="1039.8" rx="20.7" ry="23.9" fill="#beebfb" stroke="#000" stroke-width="1.6"/>
<path d="M4134.6 1039.8H4113.9" stroke="#000" stroke-width="1.6"/>
<ellipse cx="4109.2" cy="755.9" rx="20.7" ry="23.9" fill="#beebfb" stroke="#000" stroke-width="1.6"/>
<path d="M4109.2 755.9H4088.5" stroke="#000" stroke-width="1.6"/>
<ellipse cx="3786.6" cy="728.8" rx="20.7" ry="23.9" fill="#beebfb" stroke="#000" stroke-width="1.6"/>
<path d="M3786.6 728.8H3765.9" stroke="#000" stroke-width="1.6"/>
<ellipse cx="3745.0" cy="757.1" rx="20.7" ry="23.9" fill="#beebfb" stroke="#000" stroke-width="1.6"/>
<path d="M3745.0 757.1H3724.3" stroke="#000" stroke-width="1.6"/>
<ellipse cx="4085.0" cy="876.3" rx="20.7" ry="23.9" fill="#beebfb" stroke="#000" stroke-width="1.6"/>
<path d="M4085.0 876.3H4064.3" stroke="#000" stroke-width="1.6"/>
<path d="M4007.2 870.1L3986.50 870.12A20.7 23.9 0 0 1 4025.34 858.61Z" fill="#beebfb" stroke="#000" stroke-width="1.6" stroke-linejoin="round"/><path d="M4007.2 870.1L4025.34 858.61A20.7 23.9 0 1 1 3986.50 870.12Z" fill="#eba70c" stroke="#000" stroke-width="1.6" stroke-linejoin="round"/>
<ellipse cx="3964.5" cy="945.4" rx="20.7" ry="23.9" fill="#beebfb" stroke="#000" stroke-width="1.6"/>
<path d="M3964.5 945.4H3943.8" stroke="#000" stroke-width="1.6"/>
<path d="M4013.5 1323.7L3992.80 1323.68A20.7 23.9 0 0 1 3992.89 1321.43Z" fill="#d3d7d2" stroke="#000" stroke-width="1.6" stroke-linejoin="round"/><path d="M4013.5 1323.7L3992.89 1321.43A20.7 23.9 0 1 1 3992.80 1323.68Z" fill="#beebfb" stroke="#000" stroke-width="1.6" stroke-linejoin="round"/>
<path d="M3898.2 1110.5L3877.50 1110.49A20.7 23.9 0 1 1 3908.51 1131.22Z" fill="#d3d7d2" stroke="#000" stroke-width="1.6" stroke-linejoin="round"/><path d="M3898.2 1110.5L3908.51 1131.22A20.7 23.9 0 0 1 3877.50 1110.49Z" fill="#beebfb" stroke="#000" stroke-width="1.6" stroke-linejoin="round"/>
<path d="M3265.3 1035.1L3244.60 1035.09A20.7 23.9 0 1 1 3247.82 1047.90Z" fill="#d3d7d2" stroke="#000" stroke-width="1.6" stroke-linejoin="round"/><path d="M3265.3 1035.1L3247.82 1047.90A20.7 23.9 0 0 1 3244.60 1035.09Z" fill="#beebfb" stroke="#000" stroke-width="1.6" stroke-linejoin="round"/>
<path d="M2904.1 1068.1L2883.40 1068.08A20.7 23.9 0 1 1 2886.28 1080.25Z" fill="#d3d7d2" stroke="#000" stroke-width="1.6" stroke-linejoin="round"/><path d="M2904.1 1068.1L2886.28 1080.25A20.7 23.9 0 0 1 2883.40 1068.08Z" fill="#beebfb" stroke="#000" stroke-width="1.6" stroke-linejoin="round"/>
<ellipse cx="2809.6" cy="1096.4" rx="20.7" ry="23.9" fill="#d3d7d2" stroke="#000" stroke-width="1.6"/>
<path d="M2809.6 1096.4H2788.9" stroke="#000" stroke-width="1.6"/>
<ellipse cx="2969.8" cy="1185.9" rx="20.7" ry="23.9" fill="#d3d7d2" stroke="#000" stroke-width="1.6"/>
<path d="M2969.8 1185.9H2949.1" stroke="#000" stroke-width="1.6"/>
<ellipse cx="2734.0" cy="1218.9" rx="20.7" ry="23.9" fill="#d3d7d2" stroke="#000" stroke-width="1.6"/>
<path d="M2734.0 1218.9H2713.3" stroke="#000" stroke-width="1.6"/>
<ellipse cx="2649.9" cy="1247.2" rx="20.7" ry="23.9" fill="#d3d7d2" stroke="#000" stroke-width="1.6"/>
<path d="M2649.9 1247.2H2629.2" stroke="#000" stroke-width="1.6"/>
<ellipse cx="3893.4" cy="1536.9" rx="20.7" ry="23.9" fill="#beebfb" stroke="#000" stroke-width="1.6"/>
<path d="M3893.4 1536.9H3872.7" stroke="#000" stroke-width="1.6"/>
<ellipse cx="3539.5" cy="1332.0" rx="20.7" ry="23.9" fill="#beebfb" stroke="#000" stroke-width="1.6"/>
<path d="M3539.5 1332.0H3518.8" stroke="#000" stroke-width="1.6"/>
<ellipse cx="3343.3" cy="1360.3" rx="20.7" ry="23.9" fill="#beebfb" stroke="#000" stroke-width="1.6"/>
<path d="M3343.3 1360.3H3322.6" stroke="#000" stroke-width="1.6"/>
<ellipse cx="3783.7" cy="1741.7" rx="20.7" ry="23.9" fill="#beebfb" stroke="#000" stroke-width="1.6"/>
<path d="M3783.7 1741.7H3763.0" stroke="#000" stroke-width="1.6"/>
<ellipse cx="3661.1" cy="1495.7" rx="20.7" ry="23.9" fill="#beebfb" stroke="#000" stroke-width="1.6"/>
<path d="M3661.1 1495.7H3640.4" stroke="#000" stroke-width="1.6"/>
<ellipse cx="2908.8" cy="1435.7" rx="20.7" ry="23.9" fill="#beebfb" stroke="#000" stroke-width="1.6"/>
<path d="M2908.8 1435.7H2888.1" stroke="#000" stroke-width="1.6"/>
<ellipse cx="3121.0" cy="1555.8" rx="20.7" ry="23.9" fill="#beebfb" stroke="#000" stroke-width="1.6"/>
<path d="M3121.0 1555.8H3100.3" stroke="#000" stroke-width="1.6"/>
<ellipse cx="3068.6" cy="1511.1" rx="20.7" ry="23.9" fill="#beebfb" stroke="#000" stroke-width="1.6"/>
<path d="M3068.6 1511.1H3047.9" stroke="#000" stroke-width="1.6"/>
<ellipse cx="2986.6" cy="1600.6" rx="20.7" ry="23.9" fill="#beebfb" stroke="#000" stroke-width="1.6"/>
<path d="M2986.6 1600.6H2965.9" stroke="#000" stroke-width="1.6"/>
<ellipse cx="2728.9" cy="1633.6" rx="20.7" ry="23.9" fill="#beebfb" stroke="#000" stroke-width="1.6"/>
<path d="M2728.9 1633.6H2708.2" stroke="#000" stroke-width="1.6"/>
<ellipse cx="2628.8" cy="1661.9" rx="20.7" ry="23.9" fill="#beebfb" stroke="#000" stroke-width="1.6"/>
<path d="M2628.8 1661.9H2608.1" stroke="#000" stroke-width="1.6"/>
<ellipse cx="3697.8" cy="1987.7" rx="20.7" ry="23.9" fill="#beebfb" stroke="#000" stroke-width="1.6"/>
<path d="M3697.8 1987.7H3677.1" stroke="#000" stroke-width="1.6"/>
<ellipse cx="3289.4" cy="1763.0" rx="20.7" ry="23.9" fill="#beebfb" stroke="#000" stroke-width="1.6"/>
<path d="M3289.4 1763.0H3268.7" stroke="#000" stroke-width="1.6"/>
<ellipse cx="3110.7" cy="1807.7" rx="20.7" ry="23.9" fill="#beebfb" stroke="#000" stroke-width="1.6"/>
<path d="M3110.7 1807.7H3090.0" stroke="#000" stroke-width="1.6"/>
<ellipse cx="2980.1" cy="1859.2" rx="20.7" ry="23.9" fill="#beebfb" stroke="#000" stroke-width="1.6"/>
<path d="M2980.1 1859.2H2959.4" stroke="#000" stroke-width="1.6"/>
<ellipse cx="2608.2" cy="1812.7" rx="20.7" ry="23.9" fill="#beebfb" stroke="#000" stroke-width="1.6"/>
<path d="M2608.2 1812.7H2587.5" stroke="#000" stroke-width="1.6"/>
<ellipse cx="2815.6" cy="1905.7" rx="20.7" ry="23.9" fill="#beebfb" stroke="#000" stroke-width="1.6"/>
<path d="M2815.6 1905.7H2794.9" stroke="#000" stroke-width="1.6"/>
<ellipse cx="2759.8" cy="1942.3" rx="20.7" ry="23.9" fill="#beebfb" stroke="#000" stroke-width="1.6"/>
<path d="M2759.8 1942.3H2739.1" stroke="#000" stroke-width="1.6"/>
<ellipse cx="2658.5" cy="1977.6" rx="20.7" ry="23.9" fill="#beebfb" stroke="#000" stroke-width="1.6"/>
<path d="M2658.5 1977.6H2637.8" stroke="#000" stroke-width="1.6"/>
<ellipse cx="2576.4" cy="2010.6" rx="20.7" ry="23.9" fill="#beebfb" stroke="#000" stroke-width="1.6"/>
<path d="M2576.4 2010.6H2555.7" stroke="#000" stroke-width="1.6"/>
<ellipse cx="2493.5" cy="2038.9" rx="20.7" ry="23.9" fill="#beebfb" stroke="#000" stroke-width="1.6"/>
<path d="M2493.5 2038.9H2472.8" stroke="#000" stroke-width="1.6"/>
<ellipse cx="3631.7" cy="2212.4" rx="20.7" ry="23.9" fill="#beebfb" stroke="#000" stroke-width="1.6"/>
<path d="M3631.7 2212.4H3611.0" stroke="#000" stroke-width="1.6"/>
<ellipse cx="2808.8" cy="2123.7" rx="20.7" ry="23.9" fill="#beebfb" stroke="#000" stroke-width="1.6"/>
<path d="M2808.8 2123.7H2788.1" stroke="#000" stroke-width="1.6"/>
<ellipse cx="2659.3" cy="2152.0" rx="20.7" ry="23.9" fill="#beebfb" stroke="#000" stroke-width="1.6"/>
<path d="M2659.3 2152.0H2638.6" stroke="#000" stroke-width="1.6"/>
<ellipse cx="3544.5" cy="2301.1" rx="20.7" ry="23.9" fill="#beebfb" stroke="#000" stroke-width="1.6"/>
<path d="M3544.5 2301.1H3523.8" stroke="#000" stroke-width="1.6"/>
<ellipse cx="2975.8" cy="2227.4" rx="20.7" ry="23.9" fill="#beebfb" stroke="#000" stroke-width="1.6"/>
<path d="M2975.8 2227.4H2955.1" stroke="#000" stroke-width="1.6"/>
<ellipse cx="3502.8" cy="2374.9" rx="20.7" ry="23.9" fill="#beebfb" stroke="#000" stroke-width="1.6"/>
<path d="M3502.8 2374.9H3482.1" stroke="#000" stroke-width="1.6"/>
<ellipse cx="3426.8" cy="2465.9" rx="20.7" ry="23.9" fill="#beebfb" stroke="#000" stroke-width="1.6"/>
<path d="M3426.8 2465.9H3406.1" stroke="#000" stroke-width="1.6"/>
<ellipse cx="3317.3" cy="2349.9" rx="20.7" ry="23.9" fill="#beebfb" stroke="#000" stroke-width="1.6"/>
<path d="M3317.3 2349.9H3296.6" stroke="#000" stroke-width="1.6"/>
<ellipse cx="2723.0" cy="2378.2" rx="20.7" ry="23.9" fill="#beebfb" stroke="#000" stroke-width="1.6"/>
<path d="M2723.0 2378.2H2702.3" stroke="#000" stroke-width="1.6"/>
<ellipse cx="3380.0" cy="2581.9" rx="20.7" ry="23.9" fill="#beebfb" stroke="#000" stroke-width="1.6"/>
<path d="M3380.0 2581.9H3359.3" stroke="#000" stroke-width="1.6"/>
<ellipse cx="3123.8" cy="2463.0" rx="20.7" ry="23.9" fill="#beebfb" stroke="#000" stroke-width="1.6"/>
<path d="M3123.8 2463.0H3103.1" stroke="#000" stroke-width="1.6"/>
<ellipse cx="2900.8" cy="2491.3" rx="20.7" ry="23.9" fill="#beebfb" stroke="#000" stroke-width="1.6"/>
<path d="M2900.8 2491.3H2880.1" stroke="#000" stroke-width="1.6"/>
<ellipse cx="3102.8" cy="2700.8" rx="20.7" ry="23.9" fill="#beebfb" stroke="#000" stroke-width="1.6"/>
<path d="M3102.8 2700.8H3082.1" stroke="#000" stroke-width="1.6"/>
<ellipse cx="2939.3" cy="2590.2" rx="20.7" ry="23.9" fill="#beebfb" stroke="#000" stroke-width="1.6"/>
<path d="M2939.3 2590.2H2918.6" stroke="#000" stroke-width="1.6"/>
<ellipse cx="2758.0" cy="2632.6" rx="20.7" ry="23.9" fill="#beebfb" stroke="#000" stroke-width="1.6"/>
<path d="M2758.0 2632.6H2737.3" stroke="#000" stroke-width="1.6"/>
<ellipse cx="2709.5" cy="2679.8" rx="20.7" ry="23.9" fill="#beebfb" stroke="#000" stroke-width="1.6"/>
<path d="M2709.5 2679.8H2688.8" stroke="#000" stroke-width="1.6"/>
<ellipse cx="2505.7" cy="2642.1" rx="20.7" ry="23.9" fill="#beebfb" stroke="#000" stroke-width="1.6"/>
<path d="M2505.7 2642.1H2485.0" stroke="#000" stroke-width="1.6"/>
<ellipse cx="2667.8" cy="2717.5" rx="20.7" ry="23.9" fill="#beebfb" stroke="#000" stroke-width="1.6"/>
<path d="M2667.8 2717.5H2647.1" stroke="#000" stroke-width="1.6"/>
<ellipse cx="3041.4" cy="2811.4" rx="20.7" ry="23.9" fill="#beebfb" stroke="#000" stroke-width="1.6"/>
<path d="M3041.4 2811.4H3020.7" stroke="#000" stroke-width="1.6"/>
<ellipse cx="2994.3" cy="2848.8" rx="20.7" ry="23.9" fill="#beebfb" stroke="#000" stroke-width="1.6"/>
<path d="M2994.3 2848.8H2973.6" stroke="#000" stroke-width="1.6"/>
<ellipse cx="2896.2" cy="2885.9" rx="20.7" ry="23.9" fill="#beebfb" stroke="#000" stroke-width="1.6"/>
<path d="M2896.2 2885.9H2875.5" stroke="#000" stroke-width="1.6"/>
<ellipse cx="2812.9" cy="2922.5" rx="20.7" ry="23.9" fill="#beebfb" stroke="#000" stroke-width="1.6"/>
<path d="M2812.9 2922.5H2792.2" stroke="#000" stroke-width="1.6"/>
<ellipse cx="2767.5" cy="2957.8" rx="20.7" ry="23.9" fill="#beebfb" stroke="#000" stroke-width="1.6"/>
<path d="M2767.5 2957.8H2746.8" stroke="#000" stroke-width="1.6"/>
<ellipse cx="2700.0" cy="2990.8" rx="20.7" ry="23.9" fill="#beebfb" stroke="#000" stroke-width="1.6"/>
<path d="M2700.0 2990.8H2679.3" stroke="#000" stroke-width="1.6"/>
<ellipse cx="2639.6" cy="3019.1" rx="20.7" ry="23.9" fill="#beebfb" stroke="#000" stroke-width="1.6"/>
<path d="M2639.6 3019.1H2618.9" stroke="#000" stroke-width="1.6"/>
<g font-family="Liberation Sans, sans-serif" fill="#000" opacity="0.999">
<text transform="translate(1990.9 191.7) scale(0.785 1)" font-size="46.0" font-style="italic" letter-spacing="2.03">Bolinopsis ashleyi</text>
<text transform="translate(1962.3 229.5) scale(0.785 1)" font-size="46.0" font-style="italic" letter-spacing="2.16">Pleurobrachia bachei</text>
<text transform="translate(2029.2 265.5) scale(0.785 1)" font-size="46.0" font-style="italic" letter-spacing="1.94">Aurelia aurita</text>
<text transform="translate(1944.6 302.5) scale(0.785 1)" font-size="46.0" font-style="italic" letter-spacing="2.15">Nematostella vectensis</text>
<text transform="translate(2022.0 340.0) scale(0.785 1)" font-size="46.0" font-style="italic" letter-spacing="2.45">Homo sapiens</text>
<text transform="translate(2018.5 376.0) scale(0.785 1)" font-size="46.0" font-style="italic" letter-spacing="2.01">Lottia gigantea</text>
<text transform="translate(1944.7 416.0) scale(0.785 1)" font-size="46.0" font-style="italic" letter-spacing="2.25">Corticium candelabrum</text>
<text transform="translate(1994.3 452.5) scale(0.785 1)" font-size="46.0" font-style="italic" letter-spacing="2.11">Oscarella pearsei</text>
<text transform="translate(1988.7 492.0) scale(0.785 1)" font-size="46.0" font-style="italic" letter-spacing="2.06">Clathrina coriacea</text>
<text transform="translate(2008.5 528.5) scale(0.785 1)" font-size="46.0" font-style="italic" letter-spacing="1.91">Leucetta giribeti</text>
<text transform="translate(2020.8 565.5) scale(0.785 1)" font-size="46.0" font-style="italic" letter-spacing="2.12">Sycon ciliatum</text>
<text transform="translate(2013.2 604.5) scale(0.785 1)" font-size="46.0" font-style="italic" letter-spacing="2.42">Sycon coactum</text>
<text transform="translate(2003.1 714.5) scale(0.785 1)" font-size="46.0" font-style="italic" letter-spacing="1.99">Rossella fibulata</text>
<text transform="translate(2007.6 756.0) scale(0.785 1)" font-size="46.0" font-style="italic" letter-spacing="2.34">Sympagella nux</text>
<text transform="translate(1992.8 803.0) scale(0.785 1)" font-size="46.0" font-style="italic" letter-spacing="2.01">Vazella pourtalesi</text>
<text transform="translate(1969.9 1014.0) scale(0.785 1)" font-size="46.0" font-style="italic" letter-spacing="2.26">Aplysina aerophoba</text>
<text transform="translate(1958.5 1055.0) scale(0.785 1)" font-size="46.0" font-style="italic" letter-spacing="2.03">Chondrilla caribensis</text>
<text transform="translate(1984.4 1093.0) scale(0.785 1)" font-size="46.0" font-style="italic" letter-spacing="2.12">Halisarca caerulea</text>
<text transform="translate(1985.4 1129.5) scale(0.785 1)" font-size="46.0" font-style="italic" letter-spacing="1.99">Halisarca dujardini</text>
<text transform="translate(1974.5 1167.5) scale(0.785 1)" font-size="46.0" font-style="italic" letter-spacing="1.97">Dendrilla antarctica</text>
<text transform="translate(2043.0 1204.5) scale(0.785 1)" font-size="46.0" font-style="italic" letter-spacing="2.01">Vaceletia <tspan font-style="normal">sp.</tspan></text>
<text transform="translate(1996.4 1242.0) scale(0.785 1)" font-size="46.0" font-style="italic" letter-spacing="1.86">Ircinia fasciculata</text>
<text transform="translate(1988.7 1280.0) scale(0.785 1)" font-size="46.0" font-style="italic" letter-spacing="1.95">Spongia officinalis</text>
<text transform="translate(1973.2 1317.5) scale(0.785 1)" font-size="46.0" font-style="italic" letter-spacing="1.94">Haliclona penicillata</text>
<text transform="translate(1895.4 1356.0) scale(0.785 1)" font-size="46.0" font-style="italic" letter-spacing="2.42">Amphimedon queenslandica</text>
<text transform="translate(1999.4 1394.5) scale(0.785 1)" font-size="46.0" font-style="italic" letter-spacing="1.91">Petrosia ficiformis</text>
<text transform="translate(1980.9 1431.0) scale(0.785 1)" font-size="46.0" font-style="italic" letter-spacing="1.99">Scopalina ruetzleri</text>
<text transform="translate(2022.4 1469.0) scale(0.785 1)" font-size="46.0" font-style="italic" letter-spacing="2.12">Scopalina <tspan font-style="normal">sp.</tspan></text>
<text transform="translate(2003.1 1505.0) scale(0.785 1)" font-size="46.0" font-style="italic" letter-spacing="1.99">Eunapius fragilis</text>
<text transform="translate(1995.4 1543.0) scale(0.785 1)" font-size="46.0" font-style="italic" letter-spacing="1.95">Spongilla lacustris</text>
<text transform="translate(1990.9 1583.5) scale(0.785 1)" font-size="46.0" font-style="italic" letter-spacing="2.08">Ehydatia muelleri</text>
<text transform="translate(1966.7 1619.5) scale(0.785 1)" font-size="46.0" font-style="italic" letter-spacing="2.11">Lubomirskia abietina</text>
<text transform="translate(1924.7 1658.0) scale(0.785 1)" font-size="46.0" font-style="italic" letter-spacing="2.00">Baikalospongia bacillifera</text>
<text transform="translate(1938.0 1696.0) scale(0.785 1)" font-size="46.0" font-style="italic" letter-spacing="2.12">Lubomirskia baicalensis</text>
<text transform="translate(1972.2 1731.0) scale(0.785 1)" font-size="46.0" font-style="italic" letter-spacing="2.05">Craniella infrequens</text>
<text transform="translate(1943.5 1770.0) scale(0.785 1)" font-size="46.0" font-style="italic" letter-spacing="2.16">Poecillastra compressa</text>
<text transform="translate(1999.8 1808.0) scale(0.785 1)" font-size="46.0" font-style="italic" letter-spacing="2.03">Stelletta normani</text>
<text transform="translate(2010.8 1843.5) scale(0.785 1)" font-size="46.0" font-style="italic" letter-spacing="2.00">Stryphnus fortis</text>
<text transform="translate(2008.6 1879.5) scale(0.785 1)" font-size="46.0" font-style="italic" letter-spacing="2.17">Geodia phlegrai</text>
<text transform="translate(2005.3 1917.5) scale(0.785 1)" font-size="46.0" font-style="italic" letter-spacing="2.08">Geodia atlantica</text>
<text transform="translate(1972.3 1954.0) scale(0.785 1)" font-size="46.0" font-style="italic" letter-spacing="2.41">Geodia macandrewi</text>
<text transform="translate(2017.4 1989.0) scale(0.785 1)" font-size="46.0" font-style="italic" letter-spacing="2.03">Geodia barretti</text>
<text transform="translate(1989.9 2026.0) scale(0.785 1)" font-size="46.0" font-style="italic" letter-spacing="2.17">Geodia hentscheli</text>
<text transform="translate(2029.7 2064.0) scale(0.785 1)" font-size="46.0" font-style="italic" letter-spacing="2.30">Geodia parva</text>
<text transform="translate(1960.0 2104.0) scale(0.785 1)" font-size="46.0" font-style="italic" letter-spacing="2.08">Phakellia ventilabrum</text>
<text transform="translate(1936.9 2143.5) scale(0.785 1)" font-size="46.0" font-style="italic" letter-spacing="2.23">Cymbastela concentrica</text>
<text transform="translate(1996.5 2184.0) scale(0.785 1)" font-size="46.0" font-style="italic" letter-spacing="2.08">Phakellia robusta</text>
<text transform="translate(1928.1 2219.5) scale(0.785 1)" font-size="46.0" font-style="italic" letter-spacing="2.22">Cymbaxinella damicornis</text>
<text transform="translate(2006.9 2256.0) scale(0.785 1)" font-size="46.0" font-style="italic" letter-spacing="2.15">Agelas schmidti</text>
<text transform="translate(1942.8 2294.0) scale(0.785 1)" font-size="46.0" font-style="italic" letter-spacing="2.13">Polymastia invaginata</text>
<text transform="translate(2014.6 2332.0) scale(0.785 1)" font-size="46.0" font-style="italic" letter-spacing="2.19">Tethya wilhelma</text>
<text transform="translate(2023.0 2369.0) scale(0.785 1)" font-size="46.0" font-style="italic" letter-spacing="2.08">Cliona varians</text>
<text transform="translate(1910.4 2404.5) scale(0.785 1)" font-size="46.0" font-style="italic" letter-spacing="2.30">Spheciospongia vesparium</text>
<text transform="translate(2010.9 2443.0) scale(0.785 1)" font-size="46.0" font-style="italic" letter-spacing="2.08">Prosuberites <tspan font-style="normal">sp.</tspan></text>
<text transform="translate(1957.1 2482.0) scale(0.785 1)" font-size="46.0" font-style="italic" letter-spacing="2.15">Halichondria panicea</text>
<text transform="translate(2020.0 2520.0) scale(0.785 1)" font-size="46.0" font-style="italic" letter-spacing="1.99">P. suberitoides</text>
<text transform="translate(1904.8 2558.0) scale(0.785 1)" font-size="46.0" font-style="italic" letter-spacing="2.09">Chondrocladia roberballardi</text>
<text transform="translate(1986.5 2596.0) scale(0.785 1)" font-size="46.0" font-style="italic" letter-spacing="2.09">Mycale phyllophila</text>
<text transform="translate(2017.6 2633.0) scale(0.785 1)" font-size="46.0" font-style="italic" letter-spacing="2.23">Mycale acerata</text>
<text transform="translate(2018.5 2669.0) scale(0.785 1)" font-size="46.0" font-style="italic" letter-spacing="2.12">Mycale tridens</text>
<text transform="translate(2034.5 2707.5) scale(0.785 1)" font-size="46.0" font-style="italic" letter-spacing="2.12">Mycale laevis</text>
<text transform="translate(2023.6 2745.0) scale(0.785 1)" font-size="46.0" font-style="italic" letter-spacing="2.16">Mycale lingua</text>
<text transform="translate(2005.2 2780.5) scale(0.785 1)" font-size="46.0" font-style="italic" letter-spacing="2.54">Crambe crambe</text>
<text transform="translate(2043.6 2819.0) scale(0.785 1)" font-size="46.0" font-style="italic" letter-spacing="1.97">Isodyctia <tspan font-style="normal">sp.</tspan></text>
<text transform="translate(1979.9 2857.5) scale(0.785 1)" font-size="46.0" font-style="italic" letter-spacing="1.96">Latrunculia apicalis</text>
<text transform="translate(2006.4 2894.0) scale(0.785 1)" font-size="46.0" font-style="italic" letter-spacing="2.20">Iophon unicorne</text>
<text transform="translate(1992.8 2936.5) scale(0.785 1)" font-size="46.0" font-style="italic" letter-spacing="2.26">Tedania anhelans</text>
<text transform="translate(1955.6 2974.5) scale(0.785 1)" font-size="46.0" font-style="italic" letter-spacing="1.95">Kirkpatrickia variolosa</text>
<text transform="translate(2021.9 3011.0) scale(0.785 1)" font-size="46.0" font-style="italic" letter-spacing="2.10">Crella elegans</text>
<text transform="translate(1987.7 3050.0) scale(0.785 1)" font-size="46.0" font-style="italic" letter-spacing="2.20">Phorbas areolatus</text>
<text transform="translate(232.7 153.8) scale(0.785 1)" font-size="46.0" font-style="italic" letter-spacing="1.96">Charnia</text>
<text transform="translate(3934.6 146.6) scale(0.785 1)" font-size="46.0" font-style="italic" letter-spacing="1.96">Charnia</text>
<text transform="translate(428.4 625.5) scale(0.785 1)" font-size="46.0" font-style="italic" letter-spacing="1.98">Vauxia</text>
<text transform="translate(3747.3 628.4) scale(0.785 1)" font-size="46.0" font-style="italic" letter-spacing="1.98">Vauxia</text>
<text transform="translate(417.5 675.5) scale(0.785 1)" font-size="46.0" font-style="italic" letter-spacing="1.47">Eiffelia</text>
<text transform="translate(3780.8 676.7) scale(0.785 1)" font-size="46.0" font-style="italic" letter-spacing="1.47">Eiffelia</text>
<text transform="translate(286.2 815.5) scale(0.785 1)" font-size="46.0" font-style="italic" letter-spacing="1.71">Helicolocellus</text>
<text transform="translate(3769.3 815.8) scale(0.785 1)" font-size="46.0" font-style="italic" letter-spacing="1.71">Helicolocellus</text>
<text transform="translate(410.3 865.2) scale(0.785 1)" font-size="46.0" font-style="italic" letter-spacing="1.77">Diagoniella</text>
<text transform="translate(3689.0 862.6) scale(0.785 1)" font-size="46.0" font-style="italic" letter-spacing="1.77">Diagoniella</text>
<text transform="translate(394.7 911.0) scale(0.785 1)" font-size="46.0" font-style="italic" letter-spacing="1.93">Protospongia</text>
<text transform="translate(3665.6 905.6) scale(0.785 1)" font-size="46.0" font-style="italic" letter-spacing="1.93">Protospongia</text>
<text transform="translate(853.0 940.5) scale(0.785 1)" font-size="46.0" font-style="italic" letter-spacing="1.86">Minitaspongia</text>
<text transform="translate(3205.4 937.7) scale(0.785 1)" font-size="46.0" font-style="italic" letter-spacing="1.86">Minitaspongia</text>
<text transform="translate(481.5 987.0) scale(0.785 1)" font-size="46.0" font-style="italic" letter-spacing="2.07">Cyathophycus</text>
<text transform="translate(3568.0 972.8) scale(0.785 1)" font-size="46.0" font-style="italic" letter-spacing="2.07">Cyathophycus</text>
<text x="19.3" y="67.7" font-size="80" font-weight="bold">A</text>
<text transform="translate(2461.5 67.6) scale(0.935 1)" font-size="78.5" font-weight="bold">B</text>
<rect x="10.0" y="3086.4" width="272.6" height="63.1" fill="#fdd868" stroke="#1a1a1a" stroke-width="1.2"/>
<text x="146.3" y="3137.9" font-size="54" font-weight="bold" text-anchor="middle">E</text>
<rect x="282.6" y="3086.4" width="161.2" height="63.1" fill="#82a35a" stroke="#1a1a1a" stroke-width="1.2"/>
<text x="363.2" y="3137.9" font-size="54" font-weight="bold" text-anchor="middle">C</text>
<rect x="443.9" y="3086.4" width="121.8" height="63.1" fill="#029770" stroke="#1a1a1a" stroke-width="1.2"/>
<text x="504.8" y="3137.9" font-size="54" font-weight="bold" text-anchor="middle">O</text>
<rect x="565.7" y="3086.4" width="70.2" height="63.1" fill="#b3e2b8" stroke="#1a1a1a" stroke-width="1.2"/>
<text x="600.8" y="3137.9" font-size="54" font-weight="bold" text-anchor="middle">S</text>
<rect x="635.9" y="3086.4" width="174.9" height="63.1" fill="#cb8e38" stroke="#1a1a1a" stroke-width="1.2"/>
<text x="723.3" y="3137.9" font-size="54" font-weight="bold" text-anchor="middle">D</text>
<rect x="810.7" y="3086.4" width="174.0" height="63.1" fill="#68a79a" stroke="#1a1a1a" stroke-width="1.2"/>
<text x="897.7" y="3137.9" font-size="54" font-weight="bold" text-anchor="middle">C</text>
<rect x="984.7" y="3086.4" width="135.4" height="63.1" fill="#ef4129" stroke="#1a1a1a" stroke-width="1.2"/>
<text x="1052.5" y="3137.9" font-size="54" font-weight="bold" text-anchor="middle">P</text>
<rect x="1120.2" y="3086.4" width="147.6" height="63.1" fill="#7f2a8f" stroke="#1a1a1a" stroke-width="1.2"/>
<text x="1194.0" y="3137.9" font-size="54" font-weight="bold" text-anchor="middle">T</text>
<rect x="1267.8" y="3086.4" width="163.3" height="63.1" fill="#35b2cd" stroke="#1a1a1a" stroke-width="1.2"/>
<text x="1349.4" y="3137.9" font-size="54" font-weight="bold" text-anchor="middle">J</text>
<rect x="1431.1" y="3086.4" width="229.1" height="63.1" fill="#7fc74d" stroke="#1a1a1a" stroke-width="1.2"/>
<text x="1545.6" y="3137.9" font-size="54" font-weight="bold" text-anchor="middle">C</text>
<rect x="1660.2" y="3086.4" width="124.6" height="63.1" fill="#fa9a52" stroke="#1a1a1a" stroke-width="1.2"/>
<text x="1722.5" y="3137.9" font-size="54" font-weight="bold" text-anchor="middle">P</text>
<rect x="1784.8" y="3086.4" width="59.3" height="63.1" fill="#fee619" stroke="#1a1a1a" stroke-width="1.2"/>
<text x="1814.5" y="3137.9" font-size="54" font-weight="bold" text-anchor="middle">N</text>
<rect x="1844.1" y="3086.4" width="7.5" height="63.1" fill="#fff799" stroke="#1a1a1a" stroke-width="1.2"/>
<path d="M10.0 3149.5V3167" stroke="#000" stroke-width="1.6"/>
<path d="M282.6 3149.5V3167" stroke="#000" stroke-width="1.6"/>
<path d="M443.9 3149.5V3167" stroke="#000" stroke-width="1.6"/>
<path d="M565.7 3149.5V3167" stroke="#000" stroke-width="1.6"/>
<path d="M635.9 3149.5V3167" stroke="#000" stroke-width="1.6"/>
<path d="M810.7 3149.5V3167" stroke="#000" stroke-width="1.6"/>
<path d="M984.7 3149.5V3167" stroke="#000" stroke-width="1.6"/>
<path d="M1120.2 3149.5V3167" stroke="#000" stroke-width="1.6"/>
<path d="M1267.8 3149.5V3167" stroke="#000" stroke-width="1.6"/>
<path d="M1431.1 3149.5V3167" stroke="#000" stroke-width="1.6"/>
<path d="M1660.2 3149.5V3167" stroke="#000" stroke-width="1.6"/>
<path d="M1784.8 3149.5V3167" stroke="#000" stroke-width="1.6"/>
<path d="M1844.1 3149.5V3167" stroke="#000" stroke-width="1.6"/>
<path d="M1851.6 3149.5V3167" stroke="#000" stroke-width="1.6"/>
<rect x="4030.5" y="3079.3" width="272.7" height="69.4" fill="#fdd868" stroke="#1a1a1a" stroke-width="1.2"/>
<text x="4166.9" y="3132.9" font-size="54" font-weight="bold" text-anchor="middle">E</text>
<rect x="3869.2" y="3079.3" width="161.3" height="69.4" fill="#82a35a" stroke="#1a1a1a" stroke-width="1.2"/>
<text x="3949.9" y="3132.9" font-size="54" font-weight="bold" text-anchor="middle">C</text>
<rect x="3747.4" y="3079.3" width="121.8" height="69.4" fill="#029770" stroke="#1a1a1a" stroke-width="1.2"/>
<text x="3808.3" y="3132.9" font-size="54" font-weight="bold" text-anchor="middle">O</text>
<rect x="3677.2" y="3079.3" width="70.2" height="69.4" fill="#b3e2b8" stroke="#1a1a1a" stroke-width="1.2"/>
<text x="3712.3" y="3132.9" font-size="54" font-weight="bold" text-anchor="middle">S</text>
<rect x="3502.3" y="3079.3" width="174.9" height="69.4" fill="#cb8e38" stroke="#1a1a1a" stroke-width="1.2"/>
<text x="3589.8" y="3132.9" font-size="54" font-weight="bold" text-anchor="middle">D</text>
<rect x="3328.2" y="3079.3" width="174.0" height="69.4" fill="#68a79a" stroke="#1a1a1a" stroke-width="1.2"/>
<text x="3415.3" y="3132.9" font-size="54" font-weight="bold" text-anchor="middle">C</text>
<rect x="3192.8" y="3079.3" width="135.5" height="69.4" fill="#ef4129" stroke="#1a1a1a" stroke-width="1.2"/>
<text x="3260.5" y="3132.9" font-size="54" font-weight="bold" text-anchor="middle">P</text>
<rect x="3045.1" y="3079.3" width="147.7" height="69.4" fill="#7f2a8f" stroke="#1a1a1a" stroke-width="1.2"/>
<text x="3119.0" y="3132.9" font-size="54" font-weight="bold" text-anchor="middle">T</text>
<rect x="2881.8" y="3079.3" width="163.3" height="69.4" fill="#35b2cd" stroke="#1a1a1a" stroke-width="1.2"/>
<text x="2963.5" y="3132.9" font-size="54" font-weight="bold" text-anchor="middle">J</text>
<rect x="2652.7" y="3079.3" width="229.2" height="69.4" fill="#7fc74d" stroke="#1a1a1a" stroke-width="1.2"/>
<text x="2767.2" y="3132.9" font-size="54" font-weight="bold" text-anchor="middle">C</text>
<rect x="2528.0" y="3079.3" width="124.6" height="69.4" fill="#fa9a52" stroke="#1a1a1a" stroke-width="1.2"/>
<text x="2590.3" y="3132.9" font-size="54" font-weight="bold" text-anchor="middle">P</text>
<rect x="2468.7" y="3079.3" width="59.3" height="69.4" fill="#fee619" stroke="#1a1a1a" stroke-width="1.2"/>
<text x="2498.4" y="3132.9" font-size="54" font-weight="bold" text-anchor="middle">N</text>
<rect x="2461.2" y="3079.3" width="7.5" height="69.4" fill="#fff799" stroke="#1a1a1a" stroke-width="1.2"/>
<path d="M4303.2 3148.7V3167" stroke="#000" stroke-width="1.6"/>
<path d="M4030.5 3148.7V3167" stroke="#000" stroke-width="1.6"/>
<path d="M3869.2 3148.7V3167" stroke="#000" stroke-width="1.6"/>
<path d="M3747.4 3148.7V3167" stroke="#000" stroke-width="1.6"/>
<path d="M3677.2 3148.7V3167" stroke="#000" stroke-width="1.6"/>
<path d="M3502.3 3148.7V3167" stroke="#000" stroke-width="1.6"/>
<path d="M3328.2 3148.7V3167" stroke="#000" stroke-width="1.6"/>
<path d="M3192.8 3148.7V3167" stroke="#000" stroke-width="1.6"/>
<path d="M3045.1 3148.7V3167" stroke="#000" stroke-width="1.6"/>
<path d="M2881.8 3148.7V3167" stroke="#000" stroke-width="1.6"/>
<path d="M2652.7 3148.7V3167" stroke="#000" stroke-width="1.6"/>
<path d="M2528.0 3148.7V3167" stroke="#000" stroke-width="1.6"/>
<path d="M2468.7 3148.7V3167" stroke="#000" stroke-width="1.6"/>
<path d="M2461.2 3148.7V3167" stroke="#000" stroke-width="1.6"/>
<text transform="translate(30.9 3180.0) rotate(-90)" font-size="37.8" text-anchor="end">635</text>
<text transform="translate(297.7 3183.0) rotate(-90)" font-size="37.8" text-anchor="end">541</text>
<text transform="translate(456.8 3172.5) rotate(-90)" font-size="37.8" text-anchor="end">485.4</text>
<text transform="translate(578.6 3172.5) rotate(-90)" font-size="37.8" text-anchor="end">443.4</text>
<text transform="translate(645.8 3172.5) rotate(-90)" font-size="37.8" text-anchor="end">419.2</text>
<text transform="translate(819.5 3172.5) rotate(-90)" font-size="37.8" text-anchor="end">358.9</text>
<text transform="translate(993.3 3173.5) rotate(-90)" font-size="37.8" text-anchor="end">298.9</text>
<text transform="translate(1133.2 3174.0) rotate(-90)" font-size="37.8" text-anchor="end">252.2</text>
<text transform="translate(1275.8 3173.0) rotate(-90)" font-size="37.8" text-anchor="end">201.3</text>
<text transform="translate(1451.5 3179.8) rotate(-90)" font-size="37.8" text-anchor="end">145</text>
<text transform="translate(1668.5 3184.0) rotate(-90)" font-size="37.8" text-anchor="end">66</text>
<text transform="translate(1795.1 3174.0) rotate(-90)" font-size="37.8" text-anchor="end">23.03</text>
<text transform="translate(1846.5 3174.0) rotate(-90)" font-size="37.8" text-anchor="end">2.588</text>
<text transform="translate(1879.5 3174.4) rotate(-90)" font-size="37.8" text-anchor="end">0</text>
<text transform="translate(2440.5 3172.0) rotate(90)" font-size="37.8" text-anchor="start">0</text>
<text transform="translate(2464.8 3172.0) rotate(90)" font-size="37.8" text-anchor="start">2.588</text>
<text transform="translate(2517.3 3172.0) rotate(90)" font-size="37.8" text-anchor="start">23.03</text>
<text transform="translate(2640.5 3171.0) rotate(90)" font-size="37.8" text-anchor="start">66</text>
<text transform="translate(2871.0 3174.0) rotate(90)" font-size="37.8" text-anchor="start">145</text>
<text transform="translate(3033.8 3171.0) rotate(90)" font-size="37.8" text-anchor="start">201.3</text>
<text transform="translate(3178.2 3171.0) rotate(90)" font-size="37.8" text-anchor="start">252.2</text>
<text transform="translate(3317.9 3171.0) rotate(90)" font-size="37.8" text-anchor="start">298.9</text>
<text transform="translate(3493.5 3172.0) rotate(90)" font-size="37.8" text-anchor="start">358.9</text>
<text transform="translate(3669.7 3172.0) rotate(90)" font-size="37.8" text-anchor="start">419.2</text>
<text transform="translate(3739.5 3172.0) rotate(90)" font-size="37.8" text-anchor="start">443.4</text>
<text transform="translate(3860.1 3172.0) rotate(90)" font-size="37.8" text-anchor="start">485.4</text>
<text transform="translate(4018.6 3172.0) rotate(90)" font-size="37.8" text-anchor="start">541</text>
<text transform="translate(4284.1 3172.0) rotate(90)" font-size="37.8" text-anchor="start">635</text>
<ellipse cx="143.3" cy="2603.3" rx="17.2" ry="18.3" fill="#d3d7d2"/>
<text x="172.5" y="2626.8" font-size="53.8">No biomineralization</text>
<ellipse cx="143.3" cy="2668.4" rx="17.2" ry="18.3" fill="#beebfb"/>
<text x="172.5" y="2687.6" font-size="53.8">Silica</text>
<ellipse cx="143.3" cy="2733.2" rx="17.2" ry="18.3" fill="#dfa299"/>
<text x="172.5" y="2748.5" font-size="53.8">Calcite/Aragonite</text>
<ellipse cx="143.3" cy="2798.3" rx="17.2" ry="18.3" fill="#eba70c"/>
<text x="172.5" y="2809.0" font-size="53.8">Biminerallic</text>
<ellipse cx="144.2" cy="2855.9" rx="17.1" ry="17.8" fill="#fff" stroke="#595959" stroke-width="10.4"/>
<text x="172" y="2869.9" font-size="53.8">Aspiculate</text>
<ellipse cx="143.5" cy="2916.8" rx="17.1" ry="17.8" fill="#fff" stroke="#4678ab" stroke-width="10.4"/>
<text x="172.5" y="2930.1" font-size="53.8">Spiculate</text>
<circle cx="3652.3" cy="2723.1" r="17.8" fill="#d3d7d2"/>
<text x="3700.5" y="2741.9" font-size="53.8">No biomineralization</text>
<circle cx="3652.3" cy="2785.4" r="17.8" fill="#beebfb"/>
<text x="3700.5" y="2803.0" font-size="53.8">Silica</text>
<circle cx="3652.3" cy="2847.8" r="17.8" fill="#dfa299"/>
<text x="3700.5" y="2863.7" font-size="53.8">Calcite/Aragonite</text>
<circle cx="3652.3" cy="2910.5" r="17.8" fill="#eba70c"/>
<text x="3700.5" y="2924.9" font-size="53.8">Biminerallic</text>
</g>
</svg></body></html>
